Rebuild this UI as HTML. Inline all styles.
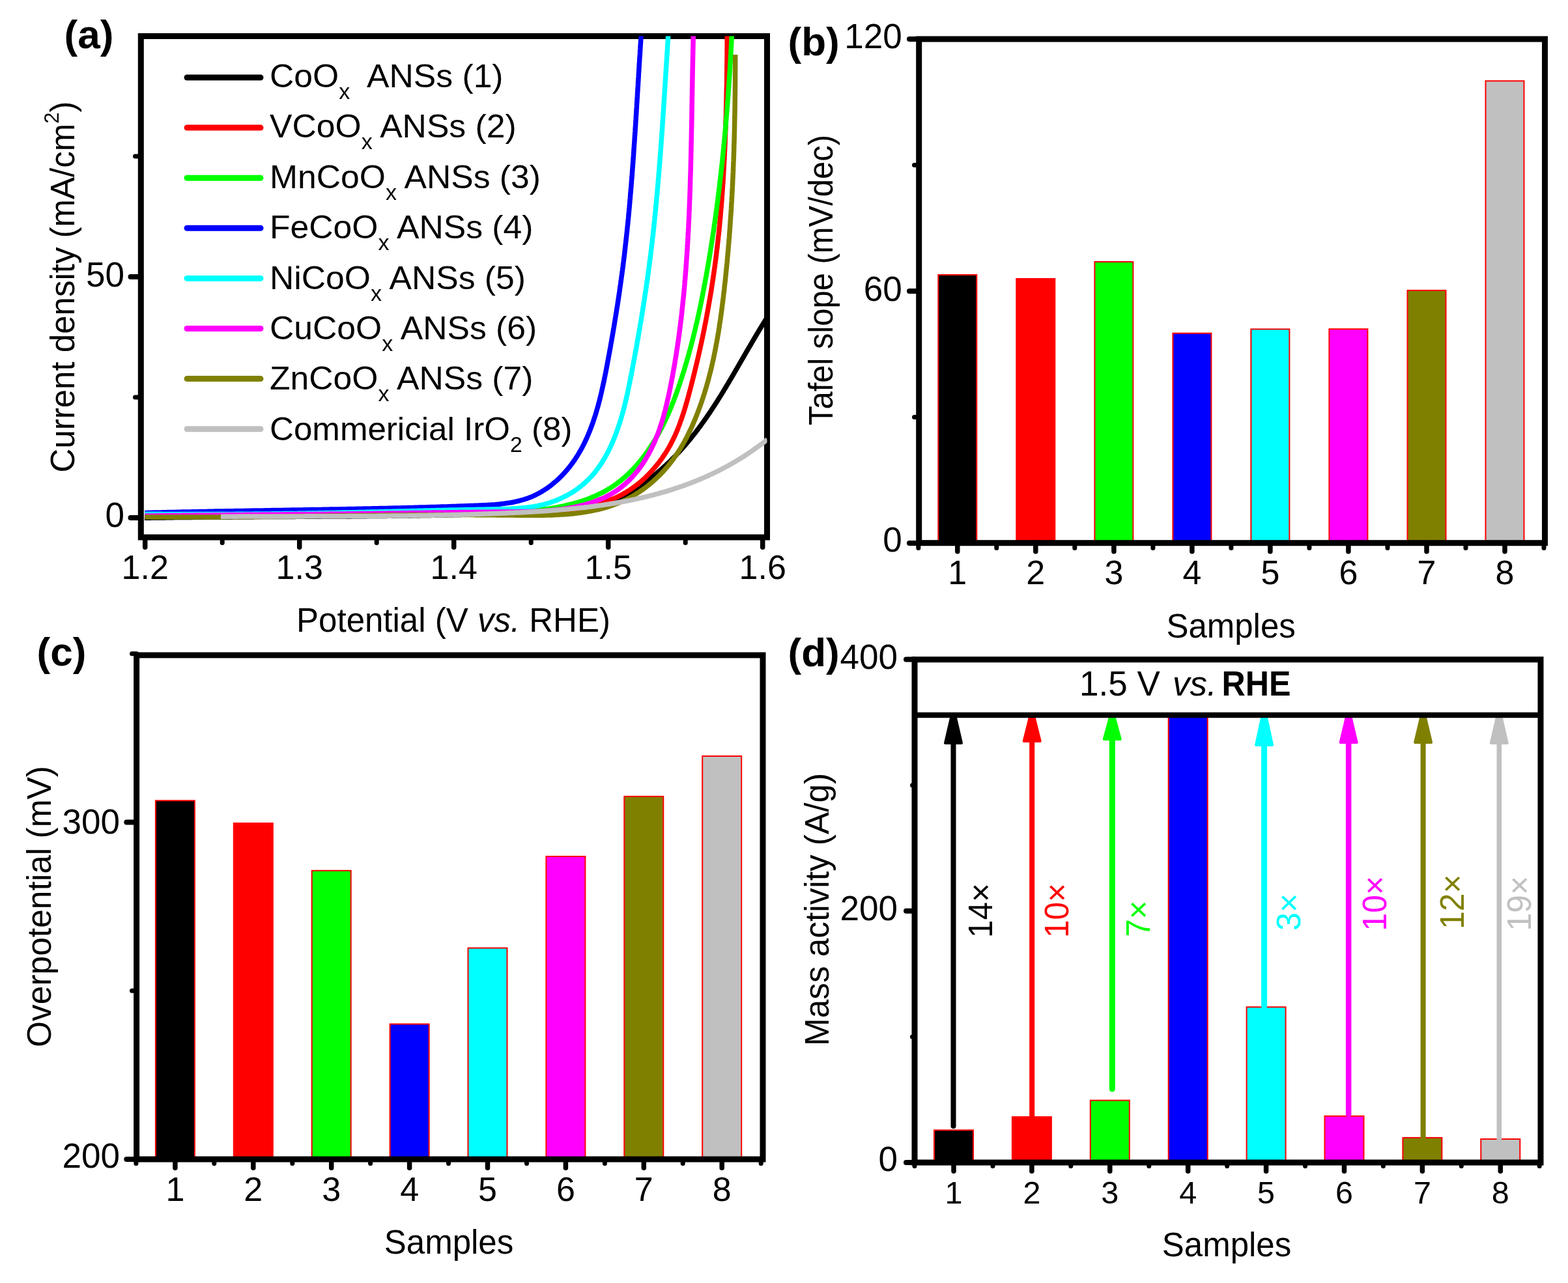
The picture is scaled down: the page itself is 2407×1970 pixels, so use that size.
<!DOCTYPE html>
<html><head><meta charset="utf-8"><title>Figure</title>
<style>html,body{margin:0;padding:0;background:#fff;}svg{display:block;}</style>
</head><body>
<svg width="2407" height="1970" viewBox="0 0 2407 1970" font-family='"Liberation Sans", Arial, sans-serif'>
<rect width="2407" height="1970" fill="#fff"/>
<defs><clipPath id="clipA"><rect x="216.3" y="55.5" width="961.2" height="769.5"/></clipPath></defs>
<rect x="216.3" y="55.5" width="961.2" height="769.5" fill="none" stroke="#000" stroke-width="9" stroke-linejoin="miter"/>
<g fill="none" stroke-width="7.5" stroke-linejoin="round" stroke-linecap="butt" clip-path="url(#clipA)">
<polyline points="221.9,795.3 224.1,795.3 226.3,795.3 228.5,795.2 230.7,795.2 232.9,795.1 235.1,795.1 237.3,795.1 239.5,795 241.7,795 243.9,795 246.1,794.9 248.3,794.9 250.5,794.9 252.7,794.9 254.9,794.8 257.1,794.8 259.3,794.8 261.5,794.7 263.7,794.7 265.9,794.7 268.1,794.6 270.3,794.6 272.5,794.6 274.7,794.6 276.9,794.5 279.1,794.5 281.3,794.5 283.5,794.5 285.7,794.4 287.9,794.4 290.1,794.4 292.3,794.4 294.5,794.4 296.7,794.3 298.9,794.3 301.1,794.3 303.3,794.3 305.5,794.2 307.7,794.2 309.9,794.2 312.1,794.2 314.2,794.2 316.4,794.1 318.6,794.1 320.8,794.1 323,794.1 325.2,794.1 327.4,794.1 329.6,794 331.8,794 334,794 336.2,794 338.4,794 340.6,794 342.8,793.9 345,793.9 347.2,793.9 349.4,793.9 351.6,793.9 353.8,793.9 356,793.9 358.2,793.8 360.4,793.8 362.6,793.8 364.8,793.8 367,793.8 369.2,793.8 371.4,793.8 373.5,793.7 375.7,793.7 377.9,793.7 380.1,793.7 382.3,793.7 384.5,793.7 386.7,793.7 388.9,793.7 391.1,793.6 393.3,793.6 395.5,793.6 397.7,793.6 399.9,793.6 402.1,793.6 404.3,793.6 406.5,793.6 408.7,793.6 410.9,793.5 413.1,793.5 415.2,793.5 417.4,793.5 419.6,793.5 421.8,793.5 424,793.5 426.2,793.5 428.4,793.5 430.6,793.5 432.8,793.4 435,793.4 437.2,793.4 439.4,793.4 441.6,793.4 443.8,793.4 446,793.4 448.2,793.4 450.4,793.4 452.6,793.4 454.7,793.3 456.9,793.3 459.1,793.3 461.3,793.3 463.5,793.3 465.7,793.3 467.9,793.3 470.1,793.3 472.3,793.3 474.5,793.2 476.7,793.2 478.9,793.2 481.1,793.2 483.3,793.2 485.5,793.2 487.7,793.2 489.8,793.2 492,793.2 494.2,793.1 496.4,793.1 498.6,793.1 500.8,793.1 503,793.1 505.2,793.1 507.4,793.1 509.6,793 511.8,793 514,793 516.2,793 518.4,793 520.6,793 522.8,793 524.9,793 527.1,792.9 529.3,792.9 531.5,792.9 533.7,792.9 535.9,792.9 538.1,792.9 540.3,792.8 542.5,792.8 544.7,792.8 546.9,792.8 549.1,792.8 551.3,792.8 553.5,792.7 555.7,792.7 557.9,792.7 560.1,792.7 562.2,792.7 564.4,792.6 566.6,792.6 568.8,792.6 571,792.6 573.2,792.6 575.4,792.5 577.6,792.5 579.8,792.5 582,792.5 584.2,792.4 586.4,792.4 588.6,792.4 590.8,792.4 593,792.4 595.2,792.3 597.4,792.3 599.5,792.3 601.7,792.2 603.9,792.2 606.1,792.2 608.3,792.2 610.5,792.1 612.7,792.1 614.9,792.1 617.1,792.1 619.3,792 621.5,792 623.7,792 625.9,791.9 628.1,791.9 630.3,791.9 632.5,791.8 634.7,791.8 636.9,791.8 639.1,791.7 641.3,791.7 643.4,791.7 645.6,791.6 647.8,791.6 650,791.6 652.2,791.5 654.4,791.5 656.6,791.4 658.8,791.4 661,791.4 663.2,791.3 665.4,791.3 667.6,791.2 669.8,791.2 672,791.2 674.2,791.1 676.4,791.1 678.6,791 680.8,791 683,790.9 685.2,790.9 687.4,790.8 689.6,790.8 691.8,790.7 694,790.7 696.2,790.6 698.4,790.6 700.6,790.5 702.7,790.5 704.9,790.4 707.1,790.4 709.3,790.3 711.5,790.3 713.7,790.2 715.9,790.2 718.1,790.1 720.3,790 722.5,790 724.7,789.9 726.9,789.9 729.1,789.8 731.3,789.7 733.5,789.7 735.7,789.6 737.9,789.6 740.1,789.5 742.3,789.4 744.5,789.4 746.7,789.3 748.9,789.2 751.1,789.2 753.3,789.1 755.5,789 757.7,788.9 759.9,788.9 762.1,788.8 764.3,788.7 766.5,788.7 768.7,788.6 770.9,788.5 773.1,788.4 775.3,788.3 777.5,788.3 779.7,788.2 781.9,788.1 784.1,788 786.3,787.9 788.5,787.9 790.7,787.8 792.9,787.7 795.1,787.6 797.3,787.5 799.5,787.4 801.7,787.3 803.9,787.2 806.1,787.1 808.3,787 810.5,786.9 812.7,786.8 814.9,786.6 817.1,786.5 819.3,786.4 821.5,786.3 823.7,786.2 825.9,786 828.1,785.9 830.3,785.7 832.4,785.6 834.6,785.5 836.8,785.3 839,785.1 841.2,785 843.4,784.8 845.6,784.6 847.8,784.5 850,784.3 852.1,784.1 854.3,783.9 856.5,783.7 858.7,783.5 860.9,783.3 863,783.1 865.2,782.8 867.4,782.6 869.6,782.4 871.8,782.1 873.9,781.9 876.1,781.6 878.3,781.4 880.4,781.1 882.6,780.8 884.8,780.6 886.9,780.3 889.1,780 891.3,779.7 893.4,779.4 895.6,779 897.7,778.7 899.9,778.4 902.1,778 904.2,777.7 906.4,777.3 908.5,777 910.7,776.6 912.8,776.2 914.9,775.8 917.1,775.4 919.2,775 921.3,774.5 923.5,774.1 925.6,773.6 927.7,773.1 929.8,772.6 931.9,772 934,771.5 936,770.9 938.1,770.2 940.1,769.5 942.1,768.8 944.1,768.1 946.1,767.3 948.1,766.5 950.1,765.6 952,764.7 953.9,763.8 955.8,762.8 957.7,761.8 959.6,760.8 961.5,759.7 963.4,758.6 965.2,757.5 967.1,756.4 968.9,755.2 970.8,754.1 972.6,752.9 974.4,751.7 976.3,750.5 978.1,749.2 979.9,748 981.7,746.8 983.5,745.5 985.3,744.2 987.1,742.9 988.9,741.6 990.7,740.3 992.5,739 994.3,737.6 996,736.3 997.8,734.9 999.6,733.6 1001.3,732.2 1003,730.8 1004.8,729.4 1006.5,728 1008.2,726.6 1009.9,725.1 1011.6,723.7 1013.3,722.2 1015,720.8 1016.6,719.3 1018.3,717.8 1019.9,716.3 1021.6,714.8 1023.2,713.3 1024.8,711.8 1026.4,710.3 1028,708.7 1029.6,707.2 1031.1,705.6 1032.7,704.1 1034.2,702.5 1035.8,700.9 1037.3,699.4 1038.8,697.8 1040.3,696.2 1041.8,694.6 1043.3,693 1044.8,691.4 1046.2,689.7 1047.7,688.1 1049.1,686.5 1050.6,684.8 1052,683.2 1053.4,681.5 1054.8,679.8 1056.2,678.2 1057.6,676.5 1059,674.8 1060.4,673.1 1061.8,671.4 1063.1,669.7 1064.5,668 1065.8,666.3 1067.2,664.6 1068.5,662.9 1069.8,661.1 1071.1,659.4 1072.4,657.7 1073.7,655.9 1075,654.2 1076.3,652.4 1077.6,650.6 1078.8,648.9 1080.1,647.1 1081.4,645.3 1082.6,643.5 1083.9,641.8 1085.1,640 1086.3,638.2 1087.6,636.4 1088.8,634.6 1090,632.8 1091.2,631 1092.4,629.1 1093.6,627.3 1094.8,625.5 1096,623.7 1097.2,621.8 1098.4,620 1099.6,618.2 1100.7,616.3 1101.9,614.5 1103.1,612.6 1104.2,610.8 1105.4,608.9 1106.5,607.1 1107.7,605.2 1108.8,603.3 1110,601.5 1111.1,599.6 1112.2,597.7 1113.4,595.9 1114.5,594 1115.6,592.1 1116.8,590.2 1117.9,588.4 1119,586.5 1120.1,584.6 1121.2,582.7 1122.4,580.8 1123.5,578.9 1124.6,577 1125.7,575.1 1126.8,573.2 1127.9,571.3 1129,569.4 1130.1,567.5 1131.2,565.6 1132.3,563.7 1133.4,561.8 1134.5,559.9 1135.6,558 1136.7,556.1 1137.8,554.2 1138.9,552.3 1140,550.4 1141.1,548.5 1142.2,546.6 1143.3,544.7 1144.4,542.8 1145.5,540.9 1146.6,539 1147.7,537.1 1148.8,535.2 1149.9,533.3 1151.1,531.4 1152.2,529.5 1153.3,527.6 1154.4,525.7 1155.5,523.8 1156.6,521.9 1157.7,520 1158.9,518.1 1160,516.2 1161.1,514.3 1162.2,512.4 1163.4,510.5 1164.5,508.6 1165.6,506.7 1166.8,504.8 1167.9,502.9 1169.1,501.1 1170.2,499.2 1171.4,497.3 1172.5,495.4 1173.7,493.5 1174.9,491.7 1176,489.8 1177.2,487.9" stroke="#000000"/>
<polyline points="222.5,789.7 225.4,789.8 228.4,789.8 231.3,789.8 234.2,789.8 237.2,789.8 240.1,789.8 243.1,789.8 246,789.8 249,789.8 251.9,789.8 254.9,789.8 257.8,789.8 260.8,789.8 263.8,789.8 266.7,789.8 269.7,789.8 272.6,789.8 275.6,789.8 278.6,789.8 281.5,789.8 284.5,789.8 287.5,789.8 290.4,789.8 293.4,789.8 296.4,789.7 299.3,789.7 302.3,789.7 305.3,789.7 308.3,789.7 311.3,789.7 314.2,789.7 317.2,789.6 320.2,789.6 323.2,789.6 326.2,789.6 329.1,789.6 332.1,789.6 335.1,789.5 338.1,789.5 341.1,789.5 344.1,789.5 347.1,789.5 350,789.4 353,789.4 356,789.4 359,789.4 362,789.3 365,789.3 368,789.3 371,789.3 374,789.2 377,789.2 380,789.2 383,789.2 386,789.1 388.9,789.1 391.9,789.1 394.9,789 397.9,789 400.9,789 403.9,788.9 406.9,788.9 409.9,788.9 412.9,788.9 415.9,788.8 418.9,788.8 421.9,788.8 424.9,788.7 427.9,788.7 430.9,788.7 433.9,788.6 436.9,788.6 439.9,788.6 442.9,788.5 445.9,788.5 448.9,788.5 451.9,788.4 454.9,788.4 457.9,788.4 460.9,788.3 463.9,788.3 466.9,788.3 469.9,788.2 472.9,788.2 475.9,788.2 478.9,788.1 481.9,788.1 484.9,788.1 487.9,788 490.9,788 493.9,788 496.8,787.9 499.8,787.9 502.8,787.9 505.8,787.8 508.8,787.8 511.8,787.8 514.8,787.7 517.8,787.7 520.8,787.7 523.8,787.7 526.7,787.6 529.7,787.6 532.7,787.6 535.7,787.5 538.7,787.5 541.7,787.5 544.7,787.4 547.6,787.4 550.6,787.4 553.6,787.4 556.6,787.3 559.5,787.3 562.5,787.3 565.5,787.3 568.5,787.2 571.4,787.2 574.4,787.2 577.4,787.2 580.4,787.1 583.3,787.1 586.3,787.1 589.3,787.1 592.2,787 595.2,787 598.1,787 601.1,787 604.1,787 607,786.9 610,786.9 612.9,786.9 615.9,786.9 618.8,786.9 621.8,786.9 624.7,786.8 627.7,786.8 630.6,786.8 633.6,786.8 636.5,786.8 639.5,786.8 642.4,786.8 645.4,786.8 648.3,786.7 651.3,786.7 654.3,786.7 657.2,786.7 660.2,786.7 663.1,786.7 666.1,786.7 669,786.7 672,786.7 674.9,786.7 677.9,786.6 680.8,786.6 683.8,786.6 686.8,786.6 689.7,786.6 692.7,786.6 695.6,786.6 698.6,786.6 701.6,786.6 704.5,786.6 707.5,786.6 710.5,786.6 713.5,786.6 716.4,786.6 719.4,786.6 722.4,786.6 725.4,786.6 728.4,786.6 731.3,786.5 734.3,786.5 737.3,786.5 740.3,786.5 743.3,786.5 746.3,786.5 749.3,786.5 752.3,786.5 755.3,786.5 758.4,786.5 761.4,786.5 764.4,786.5 767.4,786.5 770.4,786.5 773.5,786.5 776.5,786.5 779.5,786.5 782.6,786.5 785.6,786.5 788.7,786.5 791.7,786.5 794.8,786.5 797.9,786.5 800.9,786.4 804,786.4 807,786.4 810.1,786.4 813.2,786.3 816.2,786.3 819.3,786.2 822.3,786.1 825.4,786.1 828.5,786 831.5,785.9 834.6,785.8 837.6,785.6 840.7,785.5 843.7,785.4 846.7,785.2 849.8,785 852.8,784.8 855.8,784.6 858.8,784.3 861.8,784.1 864.8,783.8 867.8,783.5 870.8,783.2 873.8,782.8 876.8,782.5 879.7,782.1 882.7,781.6 885.6,781.2 888.5,780.7 891.4,780.2 894.4,779.7 897.2,779.1 900.1,778.6 903,777.9 905.9,777.3 908.7,776.6 911.5,775.9 914.3,775.2 917.1,774.4 919.9,773.6 922.7,772.7 925.4,771.8 928.2,770.9 930.9,770 933.6,769 936.3,767.9 938.9,766.8 941.6,765.7 944.2,764.6 946.8,763.4 949.4,762.1 952,760.8 954.5,759.5 957.1,758.1 959.6,756.7 962.1,755.2 964.5,753.6 967,752.1 969.4,750.4 971.8,748.8 974.1,747.1 976.5,745.3 978.8,743.5 981.1,741.7 983.3,739.8 985.6,737.8 987.8,735.9 990,733.9 992.1,731.8 994.2,729.7 996.3,727.6 998.4,725.5 1000.4,723.3 1002.4,721.1 1004.4,718.8 1006.3,716.5 1008.2,714.2 1010.1,711.9 1011.9,709.5 1013.7,707.1 1015.5,704.7 1017.2,702.2 1018.9,699.7 1020.6,697.2 1022.2,694.7 1023.8,692.1 1025.3,689.6 1026.8,687 1028.3,684.4 1029.7,681.7 1031.1,679.1 1032.4,676.4 1033.8,673.7 1035,671 1036.3,668.3 1037.5,665.6 1038.7,662.9 1039.8,660.1 1040.9,657.3 1042,654.5 1043.1,651.8 1044.1,648.9 1045.1,646.1 1046.1,643.3 1047.1,640.5 1048,637.6 1049,634.8 1049.9,631.9 1050.8,629 1051.6,626.2 1052.5,623.3 1053.3,620.4 1054.2,617.5 1055,614.6 1055.8,611.7 1056.6,608.8 1057.4,605.9 1058.1,603 1058.9,600.1 1059.7,597.2 1060.4,594.3 1061.2,591.4 1061.9,588.5 1062.7,585.5 1063.4,582.6 1064.1,579.7 1064.9,576.8 1065.6,573.9 1066.3,571 1067,568.1 1067.7,565.2 1068.4,562.3 1069.1,559.4 1069.8,556.5 1070.5,553.5 1071.2,550.6 1071.8,547.7 1072.5,544.8 1073.2,541.9 1073.8,539 1074.5,536.1 1075.1,533.1 1075.8,530.2 1076.4,527.3 1077,524.4 1077.6,521.5 1078.3,518.6 1078.9,515.6 1079.5,512.7 1080.1,509.8 1080.7,506.9 1081.3,504 1081.8,501 1082.4,498.1 1083,495.2 1083.6,492.3 1084.1,489.3 1084.7,486.4 1085.2,483.5 1085.8,480.6 1086.3,477.6 1086.8,474.7 1087.4,471.8 1087.9,468.9 1088.4,465.9 1088.9,463 1089.4,460.1 1089.9,457.1 1090.4,454.2 1090.9,451.3 1091.4,448.3 1091.9,445.4 1092.3,442.5 1092.8,439.5 1093.2,436.6 1093.7,433.6 1094.1,430.7 1094.6,427.8 1095,424.8 1095.4,421.9 1095.9,418.9 1096.3,416 1096.7,413 1097.1,410.1 1097.5,407.2 1097.9,404.2 1098.3,401.3 1098.7,398.3 1099.1,395.4 1099.4,392.4 1099.8,389.4 1100.1,386.5 1100.5,383.5 1100.9,380.6 1101.2,377.6 1101.5,374.7 1101.9,371.7 1102.2,368.7 1102.5,365.8 1102.8,362.8 1103.2,359.9 1103.5,356.9 1103.8,353.9 1104.1,351 1104.4,348 1104.7,345 1104.9,342.1 1105.2,339.1 1105.5,336.1 1105.8,333.2 1106,330.2 1106.3,327.2 1106.5,324.3 1106.8,321.3 1107,318.3 1107.3,315.4 1107.5,312.4 1107.8,309.4 1108,306.4 1108.2,303.5 1108.4,300.5 1108.7,297.5 1108.9,294.5 1109.1,291.6 1109.3,288.6 1109.5,285.6 1109.7,282.6 1109.9,279.7 1110.1,276.7 1110.2,273.7 1110.4,270.7 1110.6,267.7 1110.8,264.8 1110.9,261.8 1111.1,258.8 1111.3,255.8 1111.4,252.8 1111.6,249.9 1111.7,246.9 1111.9,243.9 1112,240.9 1112.2,237.9 1112.3,235 1112.5,232 1112.6,229 1112.7,226 1112.8,223 1113,220 1113.1,217.1 1113.2,214.1 1113.3,211.1 1113.4,208.1 1113.5,205.1 1113.6,202.1 1113.8,199.1 1113.9,196.2 1114,193.2 1114,190.2 1114.1,187.2 1114.2,184.2 1114.3,181.2 1114.4,178.2 1114.5,175.3 1114.6,172.3 1114.6,169.3 1114.7,166.3 1114.8,163.3 1114.9,160.3 1114.9,157.4 1115,154.4 1115.1,151.4 1115.1,148.4 1115.2,145.4 1115.2,142.4 1115.3,139.4 1115.3,136.5 1115.4,133.5 1115.5,130.5 1115.5,127.5 1115.5,124.5 1115.6,121.5 1115.6,118.6 1115.7,115.6 1115.7,112.6 1115.8,109.6 1115.8,106.6 1115.8,103.6 1115.9,100.7 1115.9,97.7 1115.9,94.7 1116,91.7 1116,88.7 1116,85.8 1116.1,82.8 1116.1,79.8 1116.1,76.8 1116.1,73.9 1116.2,70.9 1116.2,67.9 1116.2,64.9 1116.2,61.9 1116.2,59 1116.3,56 1116.3,53 1116.3,50" stroke="#ff0000"/>
<polyline points="222.3,791.5 225.2,791.5 228.1,791.6 231,791.6 233.9,791.6 236.8,791.6 239.8,791.6 242.7,791.7 245.6,791.7 248.5,791.7 251.4,791.7 254.3,791.7 257.3,791.7 260.2,791.7 263.1,791.7 266,791.7 268.9,791.7 271.9,791.7 274.8,791.7 277.7,791.7 280.6,791.7 283.6,791.7 286.5,791.7 289.4,791.7 292.3,791.7 295.3,791.7 298.2,791.6 301.1,791.6 304.1,791.6 307,791.6 309.9,791.6 312.9,791.6 315.8,791.5 318.7,791.5 321.7,791.5 324.6,791.5 327.5,791.5 330.5,791.4 333.4,791.4 336.3,791.4 339.3,791.4 342.2,791.3 345.2,791.3 348.1,791.3 351,791.2 354,791.2 356.9,791.2 359.9,791.2 362.8,791.1 365.7,791.1 368.7,791.1 371.6,791 374.6,791 377.5,791 380.5,790.9 383.4,790.9 386.3,790.9 389.3,790.8 392.2,790.8 395.2,790.7 398.1,790.7 401.1,790.7 404,790.6 407,790.6 409.9,790.6 412.8,790.5 415.8,790.5 418.7,790.5 421.7,790.4 424.6,790.4 427.6,790.3 430.5,790.3 433.5,790.3 436.4,790.2 439.4,790.2 442.3,790.2 445.2,790.1 448.2,790.1 451.1,790 454.1,790 457,790 460,789.9 462.9,789.9 465.9,789.9 468.8,789.8 471.7,789.8 474.7,789.8 477.6,789.7 480.6,789.7 483.5,789.7 486.5,789.6 489.4,789.6 492.3,789.6 495.3,789.5 498.2,789.5 501.2,789.5 504.1,789.5 507,789.4 510,789.4 512.9,789.4 515.9,789.4 518.8,789.3 521.7,789.3 524.7,789.3 527.6,789.3 530.5,789.2 533.5,789.2 536.4,789.2 539.4,789.2 542.3,789.2 545.2,789.2 548.2,789.1 551.1,789.1 554,789.1 556.9,789.1 559.9,789.1 562.8,789.1 565.7,789.1 568.7,789.1 571.6,789.1 574.5,789.1 577.4,789.1 580.4,789.1 583.3,789.1 586.2,789.1 589.1,789.1 592.1,789.1 595,789.1 597.9,789.1 600.8,789.1 603.7,789.1 606.7,789.1 609.6,789.1 612.5,789.2 615.4,789.2 618.3,789.2 621.2,789.2 624.2,789.2 627.1,789.2 630,789.2 632.9,789.3 635.8,789.3 638.7,789.3 641.7,789.3 644.6,789.3 647.5,789.3 650.4,789.3 653.3,789.3 656.2,789.4 659.1,789.4 662.1,789.4 665,789.4 667.9,789.4 670.8,789.4 673.7,789.4 676.7,789.4 679.6,789.4 682.5,789.3 685.4,789.3 688.4,789.3 691.3,789.3 694.2,789.3 697.1,789.3 700.1,789.2 703,789.2 705.9,789.2 708.9,789.1 711.8,789.1 714.7,789.1 717.7,789 720.6,789 723.5,788.9 726.5,788.9 729.4,788.8 732.4,788.7 735.3,788.6 738.3,788.6 741.2,788.5 744.2,788.4 747.1,788.3 750.1,788.2 753.1,788.1 756,788 759,787.9 761.9,787.8 764.9,787.6 767.9,787.5 770.9,787.4 773.8,787.2 776.8,787.1 779.8,786.9 782.8,786.8 785.8,786.6 788.8,786.4 791.8,786.2 794.7,786 797.7,785.8 800.7,785.6 803.7,785.4 806.7,785.1 809.7,784.9 812.7,784.6 815.6,784.3 818.6,784 821.6,783.7 824.6,783.4 827.5,783 830.5,782.7 833.4,782.3 836.4,781.9 839.3,781.5 842.2,781.1 845.2,780.6 848.1,780.1 851,779.6 853.9,779.1 856.8,778.6 859.7,778 862.6,777.4 865.4,776.8 868.3,776.2 871.1,775.5 873.9,774.8 876.8,774.1 879.6,773.4 882.4,772.6 885.1,771.8 887.9,771 890.6,770.2 893.4,769.3 896.1,768.4 898.8,767.4 901.5,766.4 904.2,765.4 906.8,764.4 909.4,763.3 912.1,762.2 914.7,761.1 917.2,759.9 919.8,758.7 922.3,757.4 924.9,756.1 927.4,754.8 929.8,753.4 932.3,752 934.7,750.6 937.1,749.1 939.5,747.6 941.9,746 944.2,744.4 946.5,742.7 948.8,741 951.1,739.3 953.3,737.5 955.5,735.7 957.7,733.8 959.9,731.9 962,730 964.2,728 966.2,726 968.3,723.9 970.3,721.8 972.4,719.7 974.4,717.6 976.3,715.4 978.3,713.2 980.2,711 982.1,708.7 983.9,706.4 985.8,704.1 987.6,701.7 989.4,699.4 991.1,697 992.8,694.6 994.6,692.1 996.2,689.7 997.9,687.2 999.5,684.7 1001.1,682.2 1002.7,679.7 1004.3,677.1 1005.8,674.6 1007.3,672 1008.8,669.5 1010.3,666.9 1011.7,664.3 1013.1,661.7 1014.5,659.1 1015.9,656.4 1017.2,653.8 1018.5,651.2 1019.8,648.5 1021.1,645.8 1022.3,643.2 1023.6,640.5 1024.8,637.8 1026,635.1 1027.1,632.4 1028.3,629.7 1029.4,627 1030.5,624.3 1031.6,621.6 1032.7,618.8 1033.8,616.1 1034.8,613.4 1035.9,610.6 1036.9,607.9 1037.9,605.1 1038.9,602.4 1039.9,599.6 1040.8,596.8 1041.8,594 1042.8,591.3 1043.7,588.5 1044.6,585.7 1045.5,582.9 1046.4,580.1 1047.3,577.3 1048.2,574.5 1049.1,571.7 1050,568.9 1050.8,566.1 1051.7,563.3 1052.5,560.5 1053.3,557.7 1054.2,554.9 1055,552.1 1055.8,549.3 1056.6,546.5 1057.4,543.6 1058.1,540.8 1058.9,538 1059.7,535.2 1060.4,532.3 1061.2,529.5 1061.9,526.7 1062.7,523.8 1063.4,521 1064.1,518.1 1064.8,515.3 1065.5,512.4 1066.2,509.6 1066.9,506.7 1067.6,503.9 1068.2,501 1068.9,498.2 1069.6,495.3 1070.2,492.5 1070.9,489.6 1071.5,486.7 1072.1,483.9 1072.8,481 1073.4,478.1 1074,475.3 1074.6,472.4 1075.2,469.5 1075.8,466.7 1076.4,463.8 1077,460.9 1077.5,458 1078.1,455.2 1078.7,452.3 1079.2,449.4 1079.8,446.5 1080.4,443.6 1080.9,440.8 1081.4,437.9 1082,435 1082.5,432.1 1083,429.2 1083.6,426.3 1084.1,423.4 1084.6,420.5 1085.1,417.7 1085.6,414.8 1086.1,411.9 1086.6,409 1087.1,406.1 1087.6,403.2 1088.1,400.3 1088.6,397.4 1089.1,394.5 1089.5,391.6 1090,388.7 1090.5,385.8 1090.9,382.9 1091.4,380 1091.9,377.1 1092.3,374.2 1092.8,371.3 1093.2,368.4 1093.7,365.5 1094.1,362.6 1094.5,359.7 1095,356.8 1095.4,353.9 1095.8,351 1096.2,348.1 1096.7,345.2 1097.1,342.3 1097.5,339.4 1097.9,336.5 1098.3,333.6 1098.7,330.6 1099.1,327.7 1099.5,324.8 1099.9,321.9 1100.3,319 1100.6,316.1 1101,313.2 1101.4,310.3 1101.8,307.4 1102.1,304.5 1102.5,301.5 1102.9,298.6 1103.2,295.7 1103.6,292.8 1103.9,289.9 1104.3,287 1104.6,284.1 1105,281.1 1105.3,278.2 1105.7,275.3 1106,272.4 1106.3,269.5 1106.7,266.6 1107,263.6 1107.3,260.7 1107.6,257.8 1107.9,254.9 1108.3,252 1108.6,249.1 1108.9,246.1 1109.2,243.2 1109.5,240.3 1109.8,237.4 1110.1,234.4 1110.4,231.5 1110.7,228.6 1111,225.7 1111.2,222.8 1111.5,219.8 1111.8,216.9 1112.1,214 1112.4,211.1 1112.6,208.1 1112.9,205.2 1113.2,202.3 1113.4,199.4 1113.7,196.4 1113.9,193.5 1114.2,190.6 1114.4,187.7 1114.7,184.7 1114.9,181.8 1115.2,178.9 1115.4,176 1115.7,173 1115.9,170.1 1116.1,167.2 1116.4,164.3 1116.6,161.3 1116.8,158.4 1117,155.5 1117.3,152.5 1117.5,149.6 1117.7,146.7 1117.9,143.8 1118.1,140.8 1118.3,137.9 1118.5,135 1118.7,132.1 1118.9,129.1 1119.1,126.2 1119.3,123.3 1119.5,120.3 1119.7,117.4 1119.9,114.5 1120.1,111.5 1120.3,108.6 1120.5,105.7 1120.7,102.8 1120.8,99.8 1121,96.9 1121.2,94 1121.4,91 1121.5,88.1 1121.7,85.2 1121.9,82.2 1122,79.3 1122.2,76.4 1122.4,73.5 1122.5,70.5 1122.7,67.6 1122.8,64.7 1123,61.7 1123.1,58.8 1123.3,55.9 1123.4,52.9 1123.6,50" stroke="#00ff00"/>
<polyline points="222.2,787.4 224.9,787.4 227.6,787.3 230.3,787.2 233,787.2 235.6,787.1 238.3,787 241,787 243.7,786.9 246.4,786.9 249.1,786.8 251.8,786.7 254.5,786.7 257.2,786.6 259.9,786.6 262.6,786.5 265.3,786.4 268,786.4 270.7,786.3 273.4,786.3 276.1,786.2 278.8,786.1 281.5,786.1 284.2,786 286.9,786 289.6,785.9 292.3,785.9 295,785.8 297.8,785.8 300.5,785.7 303.2,785.7 305.9,785.6 308.6,785.5 311.3,785.5 314,785.4 316.7,785.4 319.4,785.3 322.1,785.3 324.8,785.2 327.6,785.2 330.3,785.1 333,785.1 335.7,785 338.4,785 341.1,784.9 343.8,784.9 346.6,784.8 349.3,784.8 352,784.7 354.7,784.7 357.4,784.7 360.1,784.6 362.8,784.6 365.6,784.5 368.3,784.5 371,784.4 373.7,784.4 376.4,784.3 379.1,784.3 381.9,784.2 384.6,784.2 387.3,784.1 390,784.1 392.7,784 395.4,784 398.2,784 400.9,783.9 403.6,783.9 406.3,783.8 409,783.8 411.7,783.7 414.5,783.7 417.2,783.6 419.9,783.6 422.6,783.6 425.3,783.5 428,783.5 430.8,783.4 433.5,783.4 436.2,783.3 438.9,783.3 441.6,783.2 444.3,783.2 447.1,783.1 449.8,783.1 452.5,783.1 455.2,783 457.9,783 460.6,782.9 463.4,782.9 466.1,782.8 468.8,782.8 471.5,782.7 474.2,782.7 476.9,782.6 479.6,782.6 482.4,782.5 485.1,782.5 487.8,782.5 490.5,782.4 493.2,782.4 495.9,782.3 498.6,782.3 501.4,782.2 504.1,782.2 506.8,782.1 509.5,782.1 512.2,782 514.9,782 517.6,781.9 520.3,781.9 523,781.8 525.7,781.8 528.4,781.7 531.2,781.7 533.9,781.6 536.6,781.6 539.3,781.5 542,781.5 544.7,781.4 547.4,781.3 550.1,781.3 552.8,781.2 555.5,781.2 558.2,781.1 560.9,781.1 563.6,781 566.3,781 569,780.9 571.7,780.8 574.4,780.8 577.1,780.7 579.8,780.7 582.5,780.6 585.2,780.6 587.9,780.5 590.6,780.4 593.3,780.4 596,780.3 598.7,780.3 601.4,780.2 604.1,780.1 606.8,780.1 609.5,780 612.2,779.9 614.9,779.9 617.6,779.8 620.3,779.7 623,779.7 625.7,779.6 628.4,779.5 631.1,779.5 633.8,779.4 636.5,779.3 639.2,779.2 641.9,779.2 644.6,779.1 647.3,779 650,778.9 652.7,778.9 655.4,778.8 658.1,778.7 660.9,778.6 663.6,778.5 666.3,778.5 669,778.4 671.7,778.3 674.4,778.2 677.2,778.1 679.9,778 682.6,777.9 685.4,777.9 688.1,777.8 690.8,777.7 693.6,777.6 696.3,777.5 699,777.4 701.8,777.3 704.5,777.2 707.3,777.1 710,777 712.8,776.9 715.5,776.8 718.3,776.7 721,776.6 723.8,776.5 726.6,776.4 729.3,776.3 732.1,776.2 734.9,776.1 737.6,775.9 740.4,775.8 743.2,775.7 746,775.6 748.7,775.4 751.5,775.2 754.3,775.1 757,774.9 759.8,774.7 762.5,774.4 765.2,774.2 768,773.9 770.7,773.6 773.4,773.3 776.1,772.9 778.8,772.5 781.5,772.1 784.2,771.7 786.8,771.2 789.5,770.7 792.1,770.1 794.7,769.5 797.3,768.9 799.9,768.2 802.4,767.5 804.9,766.7 807.5,765.9 810,765.1 812.4,764.1 814.9,763.2 817.3,762.2 819.7,761.1 822.1,760 824.4,758.8 826.8,757.6 829.1,756.3 831.4,755 833.6,753.6 835.8,752.2 838,750.8 840.2,749.3 842.4,747.8 844.5,746.2 846.6,744.6 848.7,742.9 850.7,741.2 852.7,739.5 854.7,737.8 856.7,736 858.6,734.1 860.5,732.3 862.4,730.4 864.2,728.5 866,726.5 867.8,724.5 869.6,722.5 871.3,720.5 873,718.4 874.7,716.3 876.3,714.2 877.9,712.1 879.4,710 881,707.8 882.5,705.6 883.9,703.4 885.4,701.2 886.8,698.9 888.2,696.6 889.5,694.3 890.9,692 892.2,689.7 893.4,687.4 894.7,685 895.9,682.6 897.1,680.2 898.3,677.8 899.4,675.4 900.5,672.9 901.6,670.5 902.7,668 903.7,665.5 904.8,663 905.8,660.5 906.7,658 907.7,655.5 908.6,652.9 909.6,650.3 910.5,647.8 911.3,645.2 912.2,642.6 913,640 913.9,637.4 914.7,634.7 915.5,632.1 916.2,629.5 917,626.8 917.8,624.2 918.5,621.5 919.2,618.8 919.9,616.2 920.6,613.5 921.3,610.8 921.9,608.1 922.6,605.4 923.2,602.7 923.8,600 924.4,597.3 925,594.6 925.6,591.8 926.2,589.1 926.8,586.4 927.4,583.7 927.9,581 928.5,578.2 929,575.5 929.6,572.8 930.1,570.1 930.6,567.3 931.2,564.6 931.7,561.9 932.2,559.2 932.7,556.4 933.2,553.7 933.7,551 934.2,548.3 934.7,545.6 935.2,542.9 935.7,540.2 936.2,537.5 936.7,534.8 937.2,532.1 937.6,529.4 938.1,526.7 938.6,524.1 939.1,521.4 939.5,518.7 940,516 940.5,513.3 940.9,510.7 941.4,508 941.8,505.3 942.3,502.6 942.7,500 943.2,497.3 943.6,494.6 944,492 944.5,489.3 944.9,486.7 945.3,484 945.8,481.3 946.2,478.7 946.6,476 947,473.4 947.5,470.7 947.9,468.1 948.3,465.4 948.7,462.8 949.1,460.1 949.5,457.4 949.9,454.8 950.3,452.1 950.7,449.5 951.1,446.8 951.4,444.2 951.8,441.5 952.2,438.9 952.6,436.2 952.9,433.6 953.3,430.9 953.7,428.3 954,425.6 954.4,423 954.8,420.3 955.1,417.6 955.5,415 955.8,412.3 956.2,409.7 956.5,407 956.8,404.3 957.2,401.7 957.5,399 957.8,396.4 958.2,393.7 958.5,391 958.8,388.3 959.1,385.7 959.4,383 959.7,380.3 960,377.6 960.3,375 960.6,372.3 960.9,369.6 961.2,366.9 961.5,364.2 961.8,361.6 962.1,358.9 962.4,356.2 962.7,353.5 962.9,350.8 963.2,348.1 963.5,345.4 963.8,342.7 964,340 964.3,337.3 964.6,334.6 964.8,331.9 965.1,329.2 965.3,326.5 965.6,323.8 965.8,321.1 966.1,318.4 966.3,315.7 966.6,313 966.8,310.3 967,307.5 967.3,304.8 967.5,302.1 967.7,299.4 968,296.7 968.2,294 968.4,291.3 968.7,288.5 968.9,285.8 969.1,283.1 969.3,280.4 969.5,277.7 969.7,275 970,272.2 970.2,269.5 970.4,266.8 970.6,264.1 970.8,261.4 971,258.6 971.2,255.9 971.4,253.2 971.6,250.5 971.8,247.8 972,245 972.2,242.3 972.4,239.6 972.6,236.9 972.8,234.1 972.9,231.4 973.1,228.7 973.3,226 973.5,223.3 973.7,220.5 973.9,217.8 974.1,215.1 974.2,212.4 974.4,209.6 974.6,206.9 974.8,204.2 975,201.5 975.1,198.8 975.3,196 975.5,193.3 975.7,190.6 975.8,187.9 976,185.2 976.2,182.4 976.3,179.7 976.5,177 976.7,174.3 976.9,171.6 977,168.9 977.2,166.2 977.4,163.4 977.5,160.7 977.7,158 977.9,155.3 978,152.6 978.2,149.9 978.4,147.2 978.5,144.5 978.7,141.8 978.9,139.1 979,136.4 979.2,133.7 979.4,131 979.5,128.3 979.7,125.6 979.9,122.9 980,120.2 980.2,117.5 980.3,114.8 980.5,112.1 980.7,109.4 980.8,106.7 981,104 981.2,101.3 981.3,98.6 981.5,95.9 981.7,93.3 981.8,90.6 982,87.9 982.2,85.2 982.4,82.5 982.5,79.9 982.7,77.2 982.9,74.5 983,71.9 983.2,69.2 983.4,66.5 983.6,63.9 983.7,61.2 983.9,58.5 984.1,55.9 984.3,53.2 984.4,50.6" stroke="#0000ff"/>
<polyline points="222.2,789.2 225,789.2 227.8,789.2 230.6,789.2 233.4,789.2 236.1,789.3 238.9,789.3 241.7,789.3 244.5,789.3 247.3,789.3 250.1,789.4 252.9,789.4 255.7,789.4 258.5,789.4 261.2,789.4 264,789.4 266.8,789.4 269.6,789.5 272.4,789.5 275.2,789.5 278,789.5 280.8,789.5 283.6,789.5 286.4,789.5 289.2,789.5 292,789.5 294.8,789.5 297.6,789.5 300.4,789.5 303.2,789.5 306,789.5 308.8,789.5 311.6,789.5 314.4,789.5 317.2,789.5 320,789.5 322.8,789.5 325.6,789.5 328.4,789.5 331.2,789.5 334,789.5 336.9,789.5 339.7,789.4 342.5,789.4 345.3,789.4 348.1,789.4 350.9,789.4 353.7,789.4 356.5,789.4 359.3,789.4 362.1,789.3 364.9,789.3 367.7,789.3 370.6,789.3 373.4,789.3 376.2,789.2 379,789.2 381.8,789.2 384.6,789.2 387.4,789.2 390.2,789.1 393,789.1 395.8,789.1 398.7,789.1 401.5,789 404.3,789 407.1,789 409.9,788.9 412.7,788.9 415.5,788.9 418.3,788.8 421.1,788.8 424,788.8 426.8,788.7 429.6,788.7 432.4,788.7 435.2,788.6 438,788.6 440.8,788.6 443.6,788.5 446.4,788.5 449.3,788.4 452.1,788.4 454.9,788.4 457.7,788.3 460.5,788.3 463.3,788.2 466.1,788.2 468.9,788.2 471.7,788.1 474.5,788.1 477.3,788 480.1,788 483,787.9 485.8,787.9 488.6,787.8 491.4,787.8 494.2,787.7 497,787.7 499.8,787.6 502.6,787.6 505.4,787.5 508.2,787.5 511,787.4 513.8,787.4 516.6,787.3 519.4,787.2 522.2,787.2 525,787.1 527.8,787.1 530.6,787 533.4,787 536.2,786.9 539,786.8 541.8,786.8 544.6,786.7 547.4,786.7 550.2,786.6 553,786.5 555.8,786.5 558.6,786.4 561.4,786.3 564.2,786.3 567,786.2 569.7,786.1 572.5,786.1 575.3,786 578.1,785.9 580.9,785.9 583.7,785.8 586.5,785.7 589.3,785.7 592.1,785.6 594.8,785.5 597.6,785.4 600.4,785.4 603.2,785.3 606,785.2 608.8,785.2 611.6,785.1 614.3,785 617.1,784.9 619.9,784.9 622.7,784.8 625.5,784.7 628.3,784.7 631.1,784.6 633.8,784.5 636.6,784.4 639.4,784.4 642.2,784.3 645,784.2 647.8,784.2 650.6,784.1 653.4,784 656.2,783.9 659,783.9 661.8,783.8 664.6,783.7 667.4,783.7 670.2,783.6 673,783.5 675.8,783.5 678.6,783.4 681.4,783.3 684.2,783.3 687,783.2 689.8,783.1 692.6,783.1 695.4,783 698.2,783 701.1,782.9 703.9,782.9 706.7,782.8 709.5,782.7 712.3,782.7 715.2,782.6 718,782.6 720.8,782.5 723.7,782.5 726.5,782.4 729.3,782.4 732.2,782.3 735,782.3 737.9,782.3 740.7,782.2 743.6,782.2 746.4,782.1 749.3,782.1 752.2,782.1 755,782 757.9,782 760.7,781.9 763.6,781.9 766.5,781.8 769.3,781.8 772.2,781.7 775.1,781.6 777.9,781.5 780.8,781.4 783.6,781.3 786.5,781.1 789.3,781 792.1,780.8 795,780.6 797.8,780.3 800.6,780.1 803.4,779.8 806.2,779.5 809,779.2 811.8,778.8 814.5,778.5 817.3,778 820,777.6 822.8,777.1 825.5,776.6 828.2,776 830.9,775.4 833.6,774.8 836.2,774.1 838.9,773.3 841.5,772.6 844.2,771.8 846.8,770.9 849.3,770 851.9,769 854.4,768.1 857,767 859.5,765.9 862,764.8 864.4,763.7 866.9,762.4 869.3,761.2 871.7,759.9 874,758.6 876.4,757.2 878.7,755.8 881,754.3 883.2,752.8 885.4,751.3 887.6,749.7 889.8,748 891.9,746.4 894,744.7 896.1,742.9 898.1,741.1 900.1,739.3 902.1,737.4 904,735.5 905.9,733.5 907.8,731.5 909.6,729.5 911.4,727.4 913.1,725.3 914.9,723.1 916.5,720.9 918.2,718.7 919.8,716.4 921.4,714.1 922.9,711.8 924.4,709.4 925.9,707.1 927.3,704.7 928.8,702.2 930.1,699.8 931.5,697.3 932.8,694.8 934.1,692.2 935.4,689.7 936.6,687.1 937.8,684.5 939,681.9 940.1,679.3 941.2,676.7 942.3,674.1 943.4,671.4 944.5,668.7 945.5,666.1 946.5,663.4 947.4,660.7 948.4,658 949.3,655.3 950.2,652.6 951.1,649.9 951.9,647.2 952.8,644.4 953.6,641.7 954.4,639 955.2,636.3 955.9,633.6 956.7,630.8 957.4,628.1 958.1,625.4 958.8,622.7 959.5,619.9 960.1,617.2 960.8,614.5 961.4,611.7 962.1,609 962.7,606.3 963.3,603.5 963.9,600.8 964.4,598 965,595.3 965.6,592.5 966.1,589.8 966.7,587 967.2,584.3 967.8,581.6 968.3,578.8 968.9,576.1 969.4,573.3 969.9,570.6 970.4,567.8 971,565.1 971.5,562.3 972,559.6 972.5,556.8 973,554.1 973.5,551.3 974.1,548.5 974.6,545.8 975.1,543 975.6,540.3 976.1,537.5 976.6,534.8 977.1,532 977.6,529.3 978,526.5 978.5,523.8 979,521 979.5,518.3 980,515.5 980.5,512.7 980.9,510 981.4,507.2 981.9,504.5 982.4,501.7 982.8,499 983.3,496.2 983.8,493.4 984.2,490.7 984.7,487.9 985.1,485.2 985.6,482.4 986,479.6 986.5,476.9 986.9,474.1 987.3,471.3 987.8,468.6 988.2,465.8 988.6,463.1 989.1,460.3 989.5,457.5 989.9,454.8 990.3,452 990.8,449.2 991.2,446.5 991.6,443.7 992,440.9 992.4,438.2 992.8,435.4 993.2,432.6 993.6,429.8 994,427.1 994.4,424.3 994.7,421.5 995.1,418.8 995.5,416 995.9,413.2 996.2,410.4 996.6,407.7 997,404.9 997.3,402.1 997.7,399.3 998.1,396.5 998.4,393.8 998.8,391 999.1,388.2 999.4,385.4 999.8,382.7 1000.1,379.9 1000.4,377.1 1000.8,374.3 1001.1,371.5 1001.4,368.7 1001.7,366 1002.1,363.2 1002.4,360.4 1002.7,357.6 1003,354.8 1003.3,352 1003.6,349.2 1003.9,346.5 1004.2,343.7 1004.5,340.9 1004.8,338.1 1005,335.3 1005.3,332.5 1005.6,329.7 1005.9,326.9 1006.2,324.1 1006.4,321.3 1006.7,318.6 1007,315.8 1007.3,313 1007.5,310.2 1007.8,307.4 1008,304.6 1008.3,301.8 1008.5,299 1008.8,296.2 1009.1,293.4 1009.3,290.6 1009.5,287.8 1009.8,285 1010,282.2 1010.3,279.4 1010.5,276.6 1010.7,273.8 1011,271.1 1011.2,268.3 1011.4,265.5 1011.7,262.7 1011.9,259.9 1012.1,257.1 1012.3,254.3 1012.6,251.5 1012.8,248.7 1013,245.9 1013.2,243.1 1013.4,240.3 1013.6,237.5 1013.9,234.7 1014.1,231.9 1014.3,229.1 1014.5,226.3 1014.7,223.5 1014.9,220.7 1015.1,217.9 1015.3,215.1 1015.5,212.3 1015.7,209.5 1015.9,206.7 1016.1,203.9 1016.3,201.1 1016.5,198.3 1016.7,195.5 1016.9,192.7 1017.1,189.9 1017.2,187.1 1017.4,184.3 1017.6,181.5 1017.8,178.7 1018,175.9 1018.2,173.1 1018.4,170.3 1018.6,167.5 1018.7,164.7 1018.9,161.9 1019.1,159.1 1019.3,156.3 1019.5,153.5 1019.7,150.7 1019.8,147.9 1020,145.1 1020.2,142.3 1020.4,139.5 1020.5,136.7 1020.7,133.9 1020.9,131.1 1021.1,128.3 1021.3,125.5 1021.4,122.7 1021.6,119.9 1021.8,117.1 1022,114.3 1022.1,111.5 1022.3,108.7 1022.5,105.9 1022.7,103.1 1022.9,100.4 1023,97.6 1023.2,94.8 1023.4,92 1023.6,89.2 1023.7,86.4 1023.9,83.6 1024.1,80.8 1024.3,78 1024.5,75.2 1024.6,72.4 1024.8,69.6 1025,66.8 1025.2,64 1025.4,61.3 1025.5,58.5 1025.7,55.7 1025.9,52.9 1026.1,50.1" stroke="#00ffff"/>
<polyline points="222.3,792.1 225.2,792.1 228.1,792 231,792 233.9,791.9 236.8,791.9 239.7,791.9 242.6,791.8 245.5,791.8 248.4,791.7 251.3,791.7 254.3,791.7 257.2,791.6 260.1,791.6 263,791.6 265.9,791.5 268.8,791.5 271.7,791.5 274.7,791.4 277.6,791.4 280.5,791.3 283.4,791.3 286.3,791.3 289.3,791.2 292.2,791.2 295.1,791.2 298,791.1 300.9,791.1 303.9,791.1 306.8,791.1 309.7,791 312.7,791 315.6,791 318.5,790.9 321.4,790.9 324.4,790.9 327.3,790.8 330.2,790.8 333.1,790.8 336.1,790.7 339,790.7 341.9,790.7 344.9,790.7 347.8,790.6 350.7,790.6 353.7,790.6 356.6,790.5 359.5,790.5 362.5,790.5 365.4,790.5 368.3,790.4 371.3,790.4 374.2,790.4 377.1,790.3 380.1,790.3 383,790.3 385.9,790.3 388.9,790.2 391.8,790.2 394.8,790.2 397.7,790.2 400.6,790.1 403.6,790.1 406.5,790.1 409.4,790 412.4,790 415.3,790 418.3,790 421.2,789.9 424.1,789.9 427.1,789.9 430,789.9 432.9,789.8 435.9,789.8 438.8,789.8 441.8,789.7 444.7,789.7 447.6,789.7 450.6,789.7 453.5,789.6 456.4,789.6 459.4,789.6 462.3,789.6 465.2,789.5 468.2,789.5 471.1,789.5 474.1,789.4 477,789.4 479.9,789.4 482.9,789.4 485.8,789.3 488.7,789.3 491.7,789.3 494.6,789.2 497.5,789.2 500.5,789.2 503.4,789.2 506.3,789.1 509.3,789.1 512.2,789.1 515.1,789 518.1,789 521,789 523.9,788.9 526.9,788.9 529.8,788.9 532.7,788.8 535.6,788.8 538.6,788.8 541.5,788.8 544.4,788.7 547.3,788.7 550.3,788.7 553.2,788.6 556.1,788.6 559,788.6 562,788.5 564.9,788.5 567.8,788.4 570.7,788.4 573.7,788.4 576.6,788.3 579.5,788.3 582.4,788.3 585.3,788.2 588.2,788.2 591.2,788.2 594.1,788.1 597,788.1 599.9,788 602.8,788 605.7,788 608.6,787.9 611.6,787.9 614.5,787.8 617.4,787.8 620.3,787.8 623.2,787.7 626.1,787.7 629,787.6 631.9,787.6 634.8,787.6 637.7,787.5 640.7,787.5 643.6,787.4 646.5,787.4 649.4,787.3 652.3,787.3 655.2,787.3 658.1,787.2 661,787.2 663.9,787.1 666.8,787.1 669.8,787.1 672.7,787 675.6,787 678.5,786.9 681.4,786.9 684.3,786.9 687.3,786.8 690.2,786.8 693.1,786.8 696,786.7 698.9,786.7 701.9,786.7 704.8,786.6 707.7,786.6 710.6,786.5 713.6,786.5 716.5,786.5 719.4,786.5 722.3,786.4 725.3,786.4 728.2,786.4 731.1,786.3 734.1,786.3 737,786.3 740,786.2 742.9,786.2 745.9,786.2 748.8,786.2 751.8,786.2 754.7,786.1 757.7,786.1 760.6,786.1 763.6,786.1 766.5,786.1 769.5,786 772.5,786 775.4,786 778.4,786 781.4,786 784.3,786 787.3,785.9 790.3,785.9 793.3,785.9 796.2,785.8 799.2,785.8 802.2,785.8 805.2,785.7 808.1,785.6 811.1,785.6 814.1,785.5 817.1,785.4 820.1,785.3 823,785.2 826,785 829,784.9 831.9,784.7 834.9,784.5 837.9,784.3 840.8,784.1 843.8,783.9 846.8,783.6 849.7,783.3 852.7,783 855.6,782.7 858.5,782.3 861.5,782 864.4,781.6 867.4,781.1 870.3,780.7 873.2,780.2 876.1,779.7 879,779.2 881.9,778.6 884.8,778 887.7,777.4 890.5,776.7 893.3,776 896.2,775.3 899,774.5 901.8,773.7 904.6,772.9 907.3,772 910.1,771.1 912.8,770.1 915.5,769.1 918.1,768.1 920.8,767 923.4,765.9 926,764.8 928.6,763.6 931.1,762.3 933.6,761 936.1,759.7 938.5,758.3 940.9,756.9 943.3,755.4 945.7,753.9 948,752.3 950.2,750.7 952.5,749 954.7,747.3 956.9,745.5 959,743.7 961.1,741.8 963.1,739.9 965.2,738 967.2,736 969.1,734 971,731.9 972.9,729.8 974.8,727.7 976.6,725.5 978.4,723.3 980.1,721 981.8,718.7 983.5,716.4 985.2,714.1 986.8,711.7 988.4,709.3 989.9,706.9 991.4,704.4 992.9,701.9 994.3,699.4 995.8,696.8 997.1,694.3 998.5,691.7 999.8,689.1 1001.1,686.5 1002.3,683.8 1003.6,681.2 1004.8,678.5 1005.9,675.8 1007,673 1008.1,670.3 1009.2,667.6 1010.3,664.8 1011.3,662 1012.3,659.2 1013.2,656.4 1014.1,653.6 1015.1,650.8 1015.9,648 1016.8,645.1 1017.7,642.3 1018.5,639.4 1019.3,636.5 1020.1,633.6 1020.8,630.8 1021.6,627.9 1022.3,625 1023,622.1 1023.7,619.2 1024.4,616.2 1025,613.3 1025.7,610.4 1026.3,607.5 1026.9,604.6 1027.6,601.6 1028.2,598.7 1028.8,595.8 1029.3,592.9 1029.9,589.9 1030.5,587 1031.1,584.1 1031.6,581.2 1032.2,578.3 1032.7,575.3 1033.2,572.4 1033.7,569.5 1034.3,566.6 1034.8,563.7 1035.3,560.8 1035.8,557.9 1036.3,555 1036.7,552.1 1037.2,549.2 1037.7,546.3 1038.1,543.4 1038.6,540.5 1039,537.6 1039.5,534.7 1039.9,531.8 1040.3,528.9 1040.8,526 1041.2,523.1 1041.6,520.2 1042,517.3 1042.4,514.4 1042.8,511.5 1043.2,508.6 1043.5,505.7 1043.9,502.8 1044.3,499.9 1044.6,497 1045,494.1 1045.3,491.2 1045.7,488.4 1046,485.5 1046.4,482.6 1046.7,479.7 1047,476.8 1047.3,473.9 1047.6,471 1047.9,468.1 1048.2,465.2 1048.5,462.3 1048.8,459.4 1049.1,456.5 1049.4,453.6 1049.7,450.7 1049.9,447.9 1050.2,445 1050.5,442.1 1050.7,439.2 1051,436.3 1051.2,433.4 1051.5,430.5 1051.7,427.6 1052,424.7 1052.2,421.8 1052.4,418.9 1052.6,416 1052.9,413.1 1053.1,410.2 1053.3,407.2 1053.5,404.3 1053.7,401.4 1053.9,398.5 1054.1,395.6 1054.3,392.7 1054.5,389.8 1054.7,386.9 1054.9,384 1055.1,381 1055.2,378.1 1055.4,375.2 1055.6,372.3 1055.8,369.4 1055.9,366.5 1056.1,363.5 1056.2,360.6 1056.4,357.7 1056.6,354.8 1056.7,351.8 1056.9,348.9 1057,346 1057.1,343.1 1057.3,340.1 1057.4,337.2 1057.6,334.3 1057.7,331.4 1057.8,328.4 1057.9,325.5 1058.1,322.6 1058.2,319.6 1058.3,316.7 1058.4,313.8 1058.5,310.8 1058.6,307.9 1058.8,305 1058.9,302 1059,299.1 1059.1,296.2 1059.2,293.2 1059.3,290.3 1059.4,287.4 1059.5,284.4 1059.6,281.5 1059.6,278.6 1059.7,275.6 1059.8,272.7 1059.9,269.8 1060,266.8 1060.1,263.9 1060.2,260.9 1060.2,258 1060.3,255.1 1060.4,252.1 1060.5,249.2 1060.5,246.3 1060.6,243.3 1060.7,240.4 1060.7,237.4 1060.8,234.5 1060.9,231.6 1060.9,228.6 1061,225.7 1061.1,222.8 1061.1,219.8 1061.2,216.9 1061.3,213.9 1061.3,211 1061.4,208.1 1061.4,205.1 1061.5,202.2 1061.5,199.3 1061.6,196.3 1061.7,193.4 1061.7,190.5 1061.8,187.5 1061.8,184.6 1061.9,181.7 1061.9,178.7 1062,175.8 1062,172.9 1062.1,169.9 1062.1,167 1062.2,164.1 1062.2,161.1 1062.3,158.2 1062.3,155.3 1062.4,152.3 1062.4,149.4 1062.5,146.5 1062.5,143.6 1062.6,140.6 1062.6,137.7 1062.7,134.8 1062.7,131.9 1062.8,128.9 1062.8,126 1062.9,123.1 1062.9,120.2 1063,117.2 1063,114.3 1063.1,111.4 1063.1,108.5 1063.2,105.6 1063.3,102.6 1063.3,99.7 1063.4,96.8 1063.4,93.9 1063.5,91 1063.5,88.1 1063.6,85.2 1063.7,82.2 1063.7,79.3 1063.8,76.4 1063.9,73.5 1063.9,70.6 1064,67.7 1064.1,64.8 1064.1,61.9 1064.2,59 1064.3,56.1 1064.3,53.2 1064.4,50.3" stroke="#ff00ff"/>
<polyline points="222.4,794 225.4,794 228.3,794 231.2,794 234.1,794 237,794.1 240,794.1 242.9,794.1 245.8,794.1 248.7,794.1 251.7,794.1 254.6,794.1 257.5,794.1 260.5,794.1 263.4,794.1 266.3,794.1 269.3,794.1 272.2,794.1 275.1,794.1 278.1,794.1 281,794.1 284,794.1 286.9,794.1 289.9,794.1 292.8,794.1 295.8,794.1 298.7,794.1 301.6,794.1 304.6,794.1 307.5,794.1 310.5,794.1 313.5,794 316.4,794 319.4,794 322.3,794 325.3,794 328.2,794 331.2,793.9 334.1,793.9 337.1,793.9 340.1,793.9 343,793.9 346,793.8 349,793.8 351.9,793.8 354.9,793.8 357.8,793.8 360.8,793.7 363.8,793.7 366.7,793.7 369.7,793.7 372.7,793.6 375.6,793.6 378.6,793.6 381.6,793.5 384.5,793.5 387.5,793.5 390.5,793.5 393.4,793.4 396.4,793.4 399.4,793.4 402.4,793.3 405.3,793.3 408.3,793.3 411.3,793.2 414.2,793.2 417.2,793.2 420.2,793.1 423.2,793.1 426.1,793.1 429.1,793 432.1,793 435,793 438,792.9 441,792.9 444,792.9 446.9,792.8 449.9,792.8 452.9,792.8 455.8,792.7 458.8,792.7 461.8,792.6 464.7,792.6 467.7,792.6 470.7,792.5 473.7,792.5 476.6,792.5 479.6,792.4 482.6,792.4 485.5,792.3 488.5,792.3 491.5,792.3 494.4,792.2 497.4,792.2 500.4,792.2 503.3,792.1 506.3,792.1 509.3,792 512.2,792 515.2,792 518.1,791.9 521.1,791.9 524.1,791.9 527,791.8 530,791.8 532.9,791.8 535.9,791.7 538.9,791.7 541.8,791.7 544.8,791.6 547.7,791.6 550.7,791.6 553.6,791.5 556.6,791.5 559.5,791.5 562.5,791.4 565.4,791.4 568.4,791.4 571.3,791.3 574.3,791.3 577.2,791.3 580.2,791.2 583.1,791.2 586.1,791.2 589,791.2 591.9,791.1 594.9,791.1 597.8,791.1 600.7,791 603.7,791 606.6,791 609.5,791 612.5,790.9 615.4,790.9 618.3,790.9 621.3,790.9 624.2,790.9 627.1,790.8 630.1,790.8 633,790.8 635.9,790.8 638.8,790.8 641.8,790.7 644.7,790.7 647.6,790.7 650.5,790.7 653.5,790.7 656.4,790.7 659.3,790.7 662.3,790.7 665.2,790.6 668.1,790.6 671.1,790.6 674,790.6 676.9,790.6 679.8,790.6 682.8,790.6 685.7,790.6 688.7,790.6 691.6,790.6 694.5,790.6 697.5,790.6 700.4,790.6 703.4,790.6 706.3,790.6 709.2,790.6 712.2,790.6 715.1,790.6 718.1,790.6 721.1,790.6 724,790.6 727,790.6 729.9,790.7 732.9,790.7 735.9,790.7 738.8,790.7 741.8,790.7 744.8,790.7 747.7,790.7 750.7,790.8 753.7,790.8 756.7,790.8 759.7,790.8 762.7,790.9 765.7,790.9 768.7,790.9 771.7,790.9 774.7,791 777.7,791 780.7,791 783.7,791.1 786.7,791.1 789.7,791.1 792.7,791.2 795.8,791.2 798.8,791.2 801.8,791.3 804.9,791.3 807.9,791.3 810.9,791.3 814,791.3 817,791.3 820,791.3 823.1,791.3 826.1,791.3 829.1,791.3 832.1,791.2 835.2,791.2 838.2,791.1 841.2,791.1 844.2,791 847.2,790.9 850.2,790.8 853.2,790.6 856.2,790.5 859.2,790.3 862.2,790.1 865.2,789.9 868.2,789.7 871.2,789.5 874.1,789.2 877.1,789 880,788.7 883,788.3 885.9,788 888.8,787.6 891.7,787.2 894.6,786.8 897.5,786.4 900.4,785.9 903.3,785.4 906.2,784.9 909,784.3 911.9,783.7 914.7,783.1 917.5,782.5 920.3,781.8 923.1,781.1 925.9,780.3 928.7,779.6 931.4,778.8 934.2,777.9 936.9,777 939.6,776.1 942.3,775.1 945,774.1 947.6,773.1 950.3,772 952.9,770.9 955.5,769.7 958.1,768.5 960.7,767.3 963.2,766 965.8,764.7 968.3,763.3 970.8,761.9 973.3,760.5 975.8,759 978.2,757.4 980.6,755.9 983,754.2 985.4,752.6 987.8,750.9 990.1,749.2 992.4,747.4 994.7,745.6 997,743.8 999.2,741.9 1001.4,740 1003.6,738.1 1005.8,736.1 1007.9,734.1 1010,732.1 1012.1,730.1 1014.2,728 1016.2,725.8 1018.2,723.7 1020.2,721.5 1022.1,719.3 1024,717.1 1025.9,714.8 1027.8,712.5 1029.6,710.2 1031.4,707.8 1033.2,705.5 1034.9,703.1 1036.6,700.7 1038.3,698.2 1039.9,695.8 1041.5,693.3 1043.1,690.8 1044.7,688.2 1046.2,685.7 1047.7,683.1 1049.2,680.5 1050.7,677.9 1052.1,675.3 1053.5,672.7 1054.9,670 1056.2,667.4 1057.5,664.7 1058.8,662 1060.1,659.3 1061.4,656.6 1062.6,653.9 1063.8,651.1 1065,648.4 1066.2,645.6 1067.3,642.8 1068.4,640.1 1069.5,637.3 1070.6,634.5 1071.7,631.7 1072.7,628.9 1073.8,626.1 1074.8,623.3 1075.8,620.5 1076.8,617.7 1077.7,614.9 1078.7,612 1079.6,609.2 1080.5,606.4 1081.4,603.6 1082.3,600.7 1083.1,597.9 1084,595.1 1084.8,592.2 1085.6,589.4 1086.4,586.5 1087.2,583.7 1087.9,580.8 1088.7,577.9 1089.4,575.1 1090.2,572.2 1090.9,569.3 1091.6,566.5 1092.3,563.6 1092.9,560.7 1093.6,557.8 1094.2,555 1094.9,552.1 1095.5,549.2 1096.1,546.3 1096.7,543.4 1097.3,540.5 1097.9,537.6 1098.4,534.7 1099,531.8 1099.5,528.9 1100.1,526 1100.6,523.1 1101.1,520.2 1101.6,517.3 1102.1,514.4 1102.6,511.5 1103.1,508.6 1103.5,505.7 1104,502.8 1104.4,499.8 1104.9,496.9 1105.3,494 1105.8,491.1 1106.2,488.2 1106.6,485.2 1107,482.3 1107.4,479.4 1107.8,476.4 1108.2,473.5 1108.6,470.6 1108.9,467.7 1109.3,464.7 1109.7,461.8 1110,458.9 1110.4,455.9 1110.7,453 1111.1,450.1 1111.4,447.1 1111.8,444.2 1112.1,441.3 1112.4,438.3 1112.7,435.4 1113.1,432.4 1113.4,429.5 1113.7,426.6 1114,423.6 1114.3,420.7 1114.6,417.8 1114.9,414.8 1115.2,411.9 1115.5,408.9 1115.8,406 1116.1,403.1 1116.3,400.1 1116.6,397.2 1116.9,394.2 1117.1,391.3 1117.4,388.3 1117.7,385.4 1117.9,382.4 1118.2,379.5 1118.4,376.6 1118.7,373.6 1118.9,370.7 1119.1,367.7 1119.4,364.8 1119.6,361.8 1119.8,358.9 1120.1,355.9 1120.3,353 1120.5,350 1120.7,347.1 1120.9,344.1 1121.1,341.2 1121.3,338.2 1121.5,335.3 1121.7,332.3 1121.9,329.4 1122.1,326.4 1122.3,323.5 1122.5,320.5 1122.6,317.6 1122.8,314.6 1123,311.7 1123.2,308.7 1123.3,305.8 1123.5,302.8 1123.7,299.9 1123.8,296.9 1124,294 1124.1,291 1124.3,288 1124.4,285.1 1124.6,282.1 1124.7,279.2 1124.8,276.2 1125,273.3 1125.1,270.3 1125.2,267.4 1125.4,264.4 1125.5,261.4 1125.6,258.5 1125.7,255.5 1125.8,252.6 1125.9,249.6 1126.1,246.7 1126.2,243.7 1126.3,240.8 1126.4,237.8 1126.5,234.8 1126.6,231.9 1126.7,228.9 1126.7,226 1126.8,223 1126.9,220.1 1127,217.1 1127.1,214.1 1127.2,211.2 1127.2,208.2 1127.3,205.3 1127.4,202.3 1127.5,199.3 1127.5,196.4 1127.6,193.4 1127.7,190.5 1127.7,187.5 1127.8,184.6 1127.8,181.6 1127.9,178.6 1128,175.7 1128,172.7 1128.1,169.8 1128.1,166.8 1128.1,163.9 1128.2,160.9 1128.2,157.9 1128.3,155 1128.3,152 1128.3,149.1 1128.4,146.1 1128.4,143.1 1128.4,140.2 1128.5,137.2 1128.5,134.3 1128.5,131.3 1128.5,128.4 1128.6,125.4 1128.6,122.4 1128.6,119.5 1128.6,116.5 1128.6,113.6 1128.6,110.6 1128.6,107.7 1128.7,104.7 1128.7,101.7 1128.7,98.8 1128.7,95.8 1128.7,92.9 1128.7,89.9 1128.7,87 1128.7,84" stroke="#808000"/>
<polyline points="339,793.3 340.7,793.3 342.4,793.3 344.2,793.3 345.9,793.3 347.6,793.3 349.4,793.2 351.1,793.2 352.8,793.2 354.6,793.2 356.3,793.2 358,793.2 359.8,793.2 361.5,793.2 363.2,793.2 365,793.2 366.7,793.1 368.4,793.1 370.1,793.1 371.9,793.1 373.6,793.1 375.3,793.1 377.1,793.1 378.8,793.1 380.5,793.1 382.3,793.1 384,793.1 385.7,793.1 387.4,793.1 389.2,793.1 390.9,793 392.6,793 394.4,793 396.1,793 397.8,793 399.5,793 401.3,793 403,793 404.7,793 406.4,793 408.2,793 409.9,793 411.6,793 413.4,793 415.1,793 416.8,793 418.5,793 420.3,793 422,793 423.7,792.9 425.4,792.9 427.2,792.9 428.9,792.9 430.6,792.9 432.3,792.9 434.1,792.9 435.8,792.9 437.5,792.9 439.2,792.9 441,792.9 442.7,792.9 444.4,792.9 446.1,792.9 447.9,792.9 449.6,792.9 451.3,792.9 453,792.9 454.8,792.9 456.5,792.9 458.2,792.9 459.9,792.9 461.7,792.9 463.4,792.9 465.1,792.9 466.8,792.9 468.6,792.8 470.3,792.8 472,792.8 473.7,792.8 475.5,792.8 477.2,792.8 478.9,792.8 480.6,792.8 482.3,792.8 484.1,792.8 485.8,792.8 487.5,792.8 489.2,792.8 491,792.8 492.7,792.8 494.4,792.8 496.1,792.8 497.9,792.8 499.6,792.8 501.3,792.8 503,792.8 504.7,792.8 506.5,792.7 508.2,792.7 509.9,792.7 511.6,792.7 513.4,792.7 515.1,792.7 516.8,792.7 518.5,792.7 520.2,792.7 522,792.7 523.7,792.7 525.4,792.7 527.1,792.7 528.9,792.7 530.6,792.7 532.3,792.6 534,792.6 535.7,792.6 537.5,792.6 539.2,792.6 540.9,792.6 542.6,792.6 544.4,792.6 546.1,792.6 547.8,792.6 549.5,792.6 551.2,792.5 553,792.5 554.7,792.5 556.4,792.5 558.1,792.5 559.9,792.5 561.6,792.5 563.3,792.5 565,792.5 566.7,792.4 568.5,792.4 570.2,792.4 571.9,792.4 573.6,792.4 575.3,792.4 577.1,792.4 578.8,792.4 580.5,792.3 582.2,792.3 584,792.3 585.7,792.3 587.4,792.3 589.1,792.3 590.9,792.2 592.6,792.2 594.3,792.2 596,792.2 597.7,792.2 599.5,792.2 601.2,792.1 602.9,792.1 604.6,792.1 606.4,792.1 608.1,792.1 609.8,792 611.5,792 613.2,792 615,792 616.7,792 618.4,791.9 620.1,791.9 621.9,791.9 623.6,791.9 625.3,791.9 627,791.8 628.8,791.8 630.5,791.8 632.2,791.8 633.9,791.7 635.7,791.7 637.4,791.7 639.1,791.7 640.8,791.6 642.6,791.6 644.3,791.6 646,791.5 647.7,791.5 649.4,791.5 651.2,791.5 652.9,791.4 654.6,791.4 656.3,791.4 658.1,791.3 659.8,791.3 661.5,791.3 663.2,791.2 665,791.2 666.7,791.2 668.4,791.1 670.2,791.1 671.9,791.1 673.6,791 675.3,791 677.1,791 678.8,790.9 680.5,790.9 682.2,790.8 684,790.8 685.7,790.8 687.4,790.7 689.1,790.7 690.9,790.6 692.6,790.6 694.3,790.6 696.1,790.5 697.8,790.5 699.5,790.4 701.2,790.4 703,790.3 704.7,790.3 706.4,790.3 708.2,790.2 709.9,790.2 711.6,790.1 713.3,790.1 715.1,790 716.8,790 718.5,789.9 720.3,789.9 722,789.8 723.7,789.8 725.4,789.7 727.2,789.7 728.9,789.6 730.6,789.5 732.4,789.5 734.1,789.4 735.8,789.4 737.6,789.3 739.3,789.3 741,789.2 742.8,789.1 744.5,789.1 746.2,789 748,789 749.7,788.9 751.4,788.8 753.1,788.8 754.9,788.7 756.6,788.7 758.3,788.6 760.1,788.5 761.8,788.5 763.5,788.4 765.3,788.3 767,788.3 768.8,788.2 770.5,788.1 772.2,788 774,788 775.7,787.9 777.4,787.8 779.2,787.8 780.9,787.7 782.6,787.6 784.4,787.5 786.1,787.4 787.8,787.4 789.6,787.3 791.3,787.2 793.1,787.1 794.8,787 796.5,787 798.3,786.9 800,786.8 801.7,786.7 803.5,786.6 805.2,786.5 806.9,786.4 808.7,786.3 810.4,786.2 812.2,786.1 813.9,786.1 815.6,786 817.4,785.9 819.1,785.8 820.8,785.6 822.6,785.5 824.3,785.4 826,785.3 827.8,785.2 829.5,785.1 831.2,785 833,784.9 834.7,784.8 836.4,784.7 838.2,784.5 839.9,784.4 841.6,784.3 843.4,784.2 845.1,784 846.8,783.9 848.6,783.8 850.3,783.6 852,783.5 853.8,783.4 855.5,783.2 857.2,783.1 859,782.9 860.7,782.8 862.4,782.6 864.1,782.5 865.9,782.3 867.6,782.2 869.3,782 871,781.9 872.8,781.7 874.5,781.5 876.2,781.4 877.9,781.2 879.7,781 881.4,780.9 883.1,780.7 884.8,780.5 886.6,780.3 888.3,780.1 890,780 891.7,779.8 893.4,779.6 895.2,779.4 896.9,779.2 898.6,779 900.3,778.8 902,778.6 903.7,778.4 905.4,778.1 907.2,777.9 908.9,777.7 910.6,777.5 912.3,777.3 914,777 915.7,776.8 917.4,776.6 919.1,776.3 920.8,776.1 922.5,775.9 924.3,775.6 926,775.4 927.7,775.1 929.4,774.8 931.1,774.6 932.8,774.3 934.5,774.1 936.2,773.8 937.9,773.5 939.6,773.2 941.3,773 943,772.7 944.6,772.4 946.3,772.1 948,771.8 949.7,771.5 951.4,771.2 953.1,770.9 954.8,770.6 956.5,770.3 958.2,770 959.8,769.6 961.5,769.3 963.2,769 964.9,768.6 966.6,768.3 968.3,768 969.9,767.6 971.6,767.3 973.3,766.9 975,766.6 976.6,766.2 978.3,765.8 980,765.5 981.6,765.1 983.3,764.7 985,764.3 986.6,764 988.3,763.6 990,763.2 991.6,762.8 993.3,762.4 995,762 996.6,761.5 998.3,761.1 999.9,760.7 1001.6,760.3 1003.2,759.9 1004.9,759.4 1006.5,759 1008.2,758.5 1009.8,758.1 1011.5,757.6 1013.1,757.2 1014.7,756.7 1016.4,756.2 1018,755.8 1019.7,755.3 1021.3,754.8 1022.9,754.3 1024.6,753.8 1026.2,753.3 1027.8,752.8 1029.5,752.3 1031.1,751.8 1032.7,751.3 1034.3,750.8 1035.9,750.2 1037.6,749.7 1039.2,749.2 1040.8,748.6 1042.4,748.1 1044,747.5 1045.6,747 1047.2,746.4 1048.9,745.8 1050.5,745.3 1052.1,744.7 1053.7,744.1 1055.3,743.5 1056.9,742.9 1058.5,742.3 1060.1,741.7 1061.7,741.1 1063.2,740.5 1064.8,739.8 1066.4,739.2 1068,738.6 1069.6,737.9 1071.2,737.3 1072.8,736.6 1074.3,736 1075.9,735.3 1077.5,734.6 1079.1,733.9 1080.6,733.3 1082.2,732.6 1083.8,731.9 1085.3,731.2 1086.9,730.5 1088.4,729.8 1090,729 1091.6,728.3 1093.1,727.6 1094.7,726.8 1096.2,726.1 1097.8,725.4 1099.3,724.6 1100.9,723.8 1102.4,723.1 1103.9,722.3 1105.5,721.5 1107,720.7 1108.5,719.9 1110.1,719.1 1111.6,718.3 1113.1,717.5 1114.6,716.7 1116.2,715.9 1117.7,715 1119.2,714.2 1120.7,713.3 1122.2,712.5 1123.7,711.6 1125.2,710.8 1126.8,709.9 1128.3,709 1129.8,708.1 1131.3,707.2 1132.7,706.3 1134.2,705.4 1135.7,704.5 1137.2,703.6 1138.7,702.6 1140.2,701.7 1141.7,700.8 1143.2,699.8 1144.6,698.9 1146.1,697.9 1147.6,696.9 1149,695.9 1150.5,694.9 1152,694 1153.4,693 1154.9,691.9 1156.3,690.9 1157.8,689.9 1159.3,688.9 1160.7,687.8 1162.1,686.8 1163.6,685.7 1165,684.7 1166.5,683.6 1167.9,682.5 1169.3,681.5 1170.8,680.4 1172.2,679.3 1173.6,678.2 1175,677 1176.5,675.9 1177.9,674.8" stroke="#c0c0c0"/>
</g>
<line x1="222.7" y1="825" x2="222.7" y2="840.2" stroke="#000" stroke-width="7.5" stroke-linecap="round"/>
<text x="222.7" y="888.5" text-anchor="middle" font-size="52" font-weight="normal" fill="#000">1.2</text>
<line x1="459.7" y1="825" x2="459.7" y2="840.2" stroke="#000" stroke-width="7.5" stroke-linecap="round"/>
<text x="459.7" y="888.5" text-anchor="middle" font-size="52" font-weight="normal" fill="#000">1.3</text>
<line x1="696.7" y1="825" x2="696.7" y2="840.2" stroke="#000" stroke-width="7.5" stroke-linecap="round"/>
<text x="696.7" y="888.5" text-anchor="middle" font-size="52" font-weight="normal" fill="#000">1.4</text>
<line x1="933.7" y1="825" x2="933.7" y2="840.2" stroke="#000" stroke-width="7.5" stroke-linecap="round"/>
<text x="933.7" y="888.5" text-anchor="middle" font-size="52" font-weight="normal" fill="#000">1.5</text>
<line x1="1170.7" y1="825" x2="1170.7" y2="840.2" stroke="#000" stroke-width="7.5" stroke-linecap="round"/>
<text x="1170.7" y="888.5" text-anchor="middle" font-size="52" font-weight="normal" fill="#000">1.6</text>
<line x1="341.2" y1="825" x2="341.2" y2="833.5" stroke="#000" stroke-width="7" stroke-linecap="round"/>
<line x1="578.2" y1="825" x2="578.2" y2="833.5" stroke="#000" stroke-width="7" stroke-linecap="round"/>
<line x1="815.2" y1="825" x2="815.2" y2="833.5" stroke="#000" stroke-width="7" stroke-linecap="round"/>
<line x1="1052.2" y1="825" x2="1052.2" y2="833.5" stroke="#000" stroke-width="7" stroke-linecap="round"/>
<line x1="200.5" y1="795" x2="216.3" y2="795" stroke="#000" stroke-width="8" stroke-linecap="round"/>
<text x="191" y="809" text-anchor="end" font-size="53" font-weight="normal" fill="#000">0</text>
<line x1="200.5" y1="425" x2="216.3" y2="425" stroke="#000" stroke-width="8" stroke-linecap="round"/>
<text x="191" y="439.5" text-anchor="end" font-size="53" font-weight="normal" fill="#000">50</text>
<line x1="207.5" y1="610" x2="216.3" y2="610" stroke="#000" stroke-width="7" stroke-linecap="round"/>
<line x1="207.5" y1="240" x2="216.3" y2="240" stroke="#000" stroke-width="7" stroke-linecap="round"/>
<line x1="287" y1="119" x2="400" y2="119" stroke="#000000" stroke-width="9" stroke-linecap="round"/>
<text x="414" y="134" font-size="50" transform="translate(414 0) scale(1.033 1) translate(-414 0)" xml:space="preserve">CoO<tspan font-size="33" dy="18">x</tspan><tspan dy="-18">  ANSs (1)</tspan></text>
<line x1="287" y1="196.1" x2="400" y2="196.1" stroke="#ff0000" stroke-width="9" stroke-linecap="round"/>
<text x="414" y="211.4" font-size="50" transform="translate(414 0) scale(1.033 1) translate(-414 0)" xml:space="preserve">VCoO<tspan font-size="33" dy="18">x</tspan><tspan dy="-18"> ANSs (2)</tspan></text>
<line x1="287" y1="273.2" x2="400" y2="273.2" stroke="#00ff00" stroke-width="9" stroke-linecap="round"/>
<text x="414" y="288.8" font-size="50" transform="translate(414 0) scale(1.033 1) translate(-414 0)" xml:space="preserve">MnCoO<tspan font-size="33" dy="18">x</tspan><tspan dy="-18"> ANSs (3)</tspan></text>
<line x1="287" y1="350.3" x2="400" y2="350.3" stroke="#0000ff" stroke-width="9" stroke-linecap="round"/>
<text x="414" y="366.2" font-size="50" transform="translate(414 0) scale(1.033 1) translate(-414 0)" xml:space="preserve">FeCoO<tspan font-size="33" dy="18">x</tspan><tspan dy="-18"> ANSs (4)</tspan></text>
<line x1="287" y1="427.4" x2="400" y2="427.4" stroke="#00ffff" stroke-width="9" stroke-linecap="round"/>
<text x="414" y="443.6" font-size="50" transform="translate(414 0) scale(1.033 1) translate(-414 0)" xml:space="preserve">NiCoO<tspan font-size="33" dy="18">x</tspan><tspan dy="-18"> ANSs (5)</tspan></text>
<line x1="287" y1="504.5" x2="400" y2="504.5" stroke="#ff00ff" stroke-width="9" stroke-linecap="round"/>
<text x="414" y="521" font-size="50" transform="translate(414 0) scale(1.033 1) translate(-414 0)" xml:space="preserve">CuCoO<tspan font-size="33" dy="18">x</tspan><tspan dy="-18"> ANSs (6)</tspan></text>
<line x1="287" y1="581.6" x2="400" y2="581.6" stroke="#808000" stroke-width="9" stroke-linecap="round"/>
<text x="414" y="598.4" font-size="50" transform="translate(414 0) scale(1.033 1) translate(-414 0)" xml:space="preserve">ZnCoO<tspan font-size="33" dy="18">x</tspan><tspan dy="-18"> ANSs (7)</tspan></text>
<line x1="287" y1="658.7" x2="400" y2="658.7" stroke="#c0c0c0" stroke-width="9" stroke-linecap="round"/>
<text x="414" y="675.8" font-size="50" transform="translate(414 0) scale(1.022 1) translate(-414 0)" xml:space="preserve">Commericial IrO<tspan font-size="33" dy="18">2</tspan><tspan dy="-18"> (8)</tspan></text>
<text x="696" y="970" text-anchor="middle" font-size="51" font-weight="normal" fill="#000">Potential (V <tspan font-style="italic">vs.</tspan> RHE)</text>
<text transform="translate(113.6 440.5) rotate(-90)" text-anchor="middle" font-size="51" fill="#000">Current density (mA/cm<tspan font-size="31" dy="-24">2</tspan><tspan dy="24">)</tspan></text>
<text x="98.5" y="74.2" text-anchor="start" font-size="62" font-weight="bold" fill="#000">(a)</text>
<rect x="1440.3" y="422" width="59" height="411.7" fill="#000000" stroke="#ff0000" stroke-width="2"/>
<rect x="1560.3" y="428" width="59" height="405.7" fill="#ff0000" stroke="#ff0000" stroke-width="2"/>
<rect x="1680.4" y="402" width="59" height="431.7" fill="#00ff00" stroke="#ff0000" stroke-width="2"/>
<rect x="1800.4" y="511.7" width="59" height="322" fill="#0000ff" stroke="#ff0000" stroke-width="2"/>
<rect x="1920.4" y="505.4" width="59" height="328.3" fill="#00ffff" stroke="#ff0000" stroke-width="2"/>
<rect x="2040.4" y="505.2" width="59" height="328.5" fill="#ff00ff" stroke="#ff0000" stroke-width="2"/>
<rect x="2160.5" y="445.9" width="59" height="387.8" fill="#808000" stroke="#ff0000" stroke-width="2"/>
<rect x="2280.5" y="124.3" width="59" height="709.4" fill="#c0c0c0" stroke="#ff0000" stroke-width="2"/>
<rect x="1410.7" y="60" width="960.8" height="773.7" fill="none" stroke="#000" stroke-width="9" stroke-linejoin="miter"/>
<line x1="1469.8" y1="833.7" x2="1469.8" y2="846.8" stroke="#000" stroke-width="7.5" stroke-linecap="round"/>
<text x="1469.8" y="897" text-anchor="middle" font-size="52" font-weight="normal" fill="#000">1</text>
<line x1="1589.8" y1="833.7" x2="1589.8" y2="846.8" stroke="#000" stroke-width="7.5" stroke-linecap="round"/>
<text x="1589.8" y="897" text-anchor="middle" font-size="52" font-weight="normal" fill="#000">2</text>
<line x1="1709.9" y1="833.7" x2="1709.9" y2="846.8" stroke="#000" stroke-width="7.5" stroke-linecap="round"/>
<text x="1709.9" y="897" text-anchor="middle" font-size="52" font-weight="normal" fill="#000">3</text>
<line x1="1829.9" y1="833.7" x2="1829.9" y2="846.8" stroke="#000" stroke-width="7.5" stroke-linecap="round"/>
<text x="1829.9" y="897" text-anchor="middle" font-size="52" font-weight="normal" fill="#000">4</text>
<line x1="1949.9" y1="833.7" x2="1949.9" y2="846.8" stroke="#000" stroke-width="7.5" stroke-linecap="round"/>
<text x="1949.9" y="897" text-anchor="middle" font-size="52" font-weight="normal" fill="#000">5</text>
<line x1="2069.9" y1="833.7" x2="2069.9" y2="846.8" stroke="#000" stroke-width="7.5" stroke-linecap="round"/>
<text x="2069.9" y="897" text-anchor="middle" font-size="52" font-weight="normal" fill="#000">6</text>
<line x1="2190" y1="833.7" x2="2190" y2="846.8" stroke="#000" stroke-width="7.5" stroke-linecap="round"/>
<text x="2190" y="897" text-anchor="middle" font-size="52" font-weight="normal" fill="#000">7</text>
<line x1="2310" y1="833.7" x2="2310" y2="846.8" stroke="#000" stroke-width="7.5" stroke-linecap="round"/>
<text x="2310" y="897" text-anchor="middle" font-size="52" font-weight="normal" fill="#000">8</text>
<line x1="1409.8" y1="833.7" x2="1409.8" y2="841.5" stroke="#000" stroke-width="7" stroke-linecap="round"/>
<line x1="1529.8" y1="833.7" x2="1529.8" y2="841.5" stroke="#000" stroke-width="7" stroke-linecap="round"/>
<line x1="1649.8" y1="833.7" x2="1649.8" y2="841.5" stroke="#000" stroke-width="7" stroke-linecap="round"/>
<line x1="1769.9" y1="833.7" x2="1769.9" y2="841.5" stroke="#000" stroke-width="7" stroke-linecap="round"/>
<line x1="1889.9" y1="833.7" x2="1889.9" y2="841.5" stroke="#000" stroke-width="7" stroke-linecap="round"/>
<line x1="2009.9" y1="833.7" x2="2009.9" y2="841.5" stroke="#000" stroke-width="7" stroke-linecap="round"/>
<line x1="2130" y1="833.7" x2="2130" y2="841.5" stroke="#000" stroke-width="7" stroke-linecap="round"/>
<line x1="2250" y1="833.7" x2="2250" y2="841.5" stroke="#000" stroke-width="7" stroke-linecap="round"/>
<line x1="2370" y1="833.7" x2="2370" y2="841.5" stroke="#000" stroke-width="7" stroke-linecap="round"/>
<line x1="1396" y1="834" x2="1410.7" y2="834" stroke="#000" stroke-width="8" stroke-linecap="round"/>
<text x="1384.8" y="846.5" text-anchor="end" font-size="53" font-weight="normal" fill="#000">0</text>
<line x1="1396" y1="447" x2="1410.7" y2="447" stroke="#000" stroke-width="8" stroke-linecap="round"/>
<text x="1384.8" y="462" text-anchor="end" font-size="53" font-weight="normal" fill="#000">60</text>
<line x1="1396" y1="60" x2="1410.7" y2="60" stroke="#000" stroke-width="8" stroke-linecap="round"/>
<text x="1384.8" y="74" text-anchor="end" font-size="53" font-weight="normal" fill="#000">120</text>
<line x1="1403.5" y1="640.5" x2="1410.7" y2="640.5" stroke="#000" stroke-width="7" stroke-linecap="round"/>
<line x1="1403.5" y1="253.5" x2="1410.7" y2="253.5" stroke="#000" stroke-width="7" stroke-linecap="round"/>
<text x="1889.6" y="979" text-anchor="middle" font-size="51" font-weight="normal" fill="#000">Samples</text>
<text transform="translate(1278.4 430) rotate(-90)" text-anchor="middle" font-size="51" fill="#000" textLength="446" lengthAdjust="spacingAndGlyphs">Tafel slope (mV/dec)</text>
<text x="1209.5" y="85.2" text-anchor="start" font-size="62" font-weight="bold" fill="#000">(b)</text>
<rect x="238.9" y="1229.3" width="60" height="550.7" fill="#000000" stroke="#ff0000" stroke-width="2"/>
<rect x="358.8" y="1264" width="60" height="516" fill="#ff0000" stroke="#ff0000" stroke-width="2"/>
<rect x="478.7" y="1336.8" width="60" height="443.2" fill="#00ff00" stroke="#ff0000" stroke-width="2"/>
<rect x="598.6" y="1572.4" width="60" height="207.6" fill="#0000ff" stroke="#ff0000" stroke-width="2"/>
<rect x="718.5" y="1455.6" width="60" height="324.4" fill="#00ffff" stroke="#ff0000" stroke-width="2"/>
<rect x="838.4" y="1315" width="60" height="465" fill="#ff00ff" stroke="#ff0000" stroke-width="2"/>
<rect x="958.3" y="1222.9" width="60" height="557.1" fill="#808000" stroke="#ff0000" stroke-width="2"/>
<rect x="1078.2" y="1161" width="60" height="619" fill="#c0c0c0" stroke="#ff0000" stroke-width="2"/>
<rect x="209.6" y="1006" width="961.4" height="774" fill="none" stroke="#000" stroke-width="9" stroke-linejoin="miter"/>
<line x1="268.9" y1="1780" x2="268.9" y2="1793.2" stroke="#000" stroke-width="7.5" stroke-linecap="round"/>
<text x="268.9" y="1844" text-anchor="middle" font-size="52" font-weight="normal" fill="#000">1</text>
<line x1="388.8" y1="1780" x2="388.8" y2="1793.2" stroke="#000" stroke-width="7.5" stroke-linecap="round"/>
<text x="388.8" y="1844" text-anchor="middle" font-size="52" font-weight="normal" fill="#000">2</text>
<line x1="508.7" y1="1780" x2="508.7" y2="1793.2" stroke="#000" stroke-width="7.5" stroke-linecap="round"/>
<text x="508.7" y="1844" text-anchor="middle" font-size="52" font-weight="normal" fill="#000">3</text>
<line x1="628.6" y1="1780" x2="628.6" y2="1793.2" stroke="#000" stroke-width="7.5" stroke-linecap="round"/>
<text x="628.6" y="1844" text-anchor="middle" font-size="52" font-weight="normal" fill="#000">4</text>
<line x1="748.5" y1="1780" x2="748.5" y2="1793.2" stroke="#000" stroke-width="7.5" stroke-linecap="round"/>
<text x="748.5" y="1844" text-anchor="middle" font-size="52" font-weight="normal" fill="#000">5</text>
<line x1="868.4" y1="1780" x2="868.4" y2="1793.2" stroke="#000" stroke-width="7.5" stroke-linecap="round"/>
<text x="868.4" y="1844" text-anchor="middle" font-size="52" font-weight="normal" fill="#000">6</text>
<line x1="988.3" y1="1780" x2="988.3" y2="1793.2" stroke="#000" stroke-width="7.5" stroke-linecap="round"/>
<text x="988.3" y="1844" text-anchor="middle" font-size="52" font-weight="normal" fill="#000">7</text>
<line x1="1108.2" y1="1780" x2="1108.2" y2="1793.2" stroke="#000" stroke-width="7.5" stroke-linecap="round"/>
<text x="1108.2" y="1844" text-anchor="middle" font-size="52" font-weight="normal" fill="#000">8</text>
<line x1="208.9" y1="1780" x2="208.9" y2="1786.5" stroke="#000" stroke-width="7" stroke-linecap="round"/>
<line x1="328.8" y1="1780" x2="328.8" y2="1786.5" stroke="#000" stroke-width="7" stroke-linecap="round"/>
<line x1="448.8" y1="1780" x2="448.8" y2="1786.5" stroke="#000" stroke-width="7" stroke-linecap="round"/>
<line x1="568.6" y1="1780" x2="568.6" y2="1786.5" stroke="#000" stroke-width="7" stroke-linecap="round"/>
<line x1="688.5" y1="1780" x2="688.5" y2="1786.5" stroke="#000" stroke-width="7" stroke-linecap="round"/>
<line x1="808.5" y1="1780" x2="808.5" y2="1786.5" stroke="#000" stroke-width="7" stroke-linecap="round"/>
<line x1="928.4" y1="1780" x2="928.4" y2="1786.5" stroke="#000" stroke-width="7" stroke-linecap="round"/>
<line x1="1048.2" y1="1780" x2="1048.2" y2="1786.5" stroke="#000" stroke-width="7" stroke-linecap="round"/>
<line x1="1168.2" y1="1780" x2="1168.2" y2="1786.5" stroke="#000" stroke-width="7" stroke-linecap="round"/>
<line x1="194.3" y1="1780" x2="209.6" y2="1780" stroke="#000" stroke-width="8" stroke-linecap="round"/>
<text x="184" y="1793" text-anchor="end" font-size="53" font-weight="normal" fill="#000">200</text>
<line x1="194.3" y1="1262.5" x2="209.6" y2="1262.5" stroke="#000" stroke-width="8" stroke-linecap="round"/>
<text x="184" y="1279.5" text-anchor="end" font-size="53" font-weight="normal" fill="#000">300</text>
<line x1="202.5" y1="1521.2" x2="209.6" y2="1521.2" stroke="#000" stroke-width="7" stroke-linecap="round"/>
<line x1="202.5" y1="1003.8" x2="209.6" y2="1003.8" stroke="#000" stroke-width="7" stroke-linecap="round"/>
<text x="689" y="1925" text-anchor="middle" font-size="51" font-weight="normal" fill="#000">Samples</text>
<text transform="translate(78 1392) rotate(-90)" text-anchor="middle" font-size="51" fill="#000" textLength="432" lengthAdjust="spacingAndGlyphs">Overpotential (mV)</text>
<text x="56.6" y="1021.8" text-anchor="start" font-size="62" font-weight="bold" fill="#000">(c)</text>
<rect x="1434" y="1735.3" width="60" height="49.7" fill="#000000" stroke="#ff0000" stroke-width="2"/>
<rect x="1553.9" y="1715" width="60" height="70" fill="#ff0000" stroke="#ff0000" stroke-width="2"/>
<rect x="1673.8" y="1689.6" width="60" height="95.4" fill="#00ff00" stroke="#ff0000" stroke-width="2"/>
<rect x="1793.7" y="1099" width="60" height="686" fill="#0000ff" stroke="#ff0000" stroke-width="2"/>
<rect x="1913.6" y="1546.3" width="60" height="238.7" fill="#00ffff" stroke="#ff0000" stroke-width="2"/>
<rect x="2033.5" y="1713.7" width="60" height="71.3" fill="#ff00ff" stroke="#ff0000" stroke-width="2"/>
<rect x="2153.4" y="1746.9" width="60" height="38.1" fill="#808000" stroke="#ff0000" stroke-width="2"/>
<rect x="2273.3" y="1749" width="60" height="36" fill="#c0c0c0" stroke="#ff0000" stroke-width="2"/>
<line x1="1463.5" y1="1729" x2="1463.5" y2="1143" stroke="#000000" stroke-width="8" stroke-linecap="round"/>
<path d="M1460.5,1100 L1466.5,1100 L1476,1141 L1451,1141 Z" fill="#000000" stroke="#000000" stroke-width="4" stroke-linejoin="round"/>
<line x1="1584.2" y1="1714" x2="1584.2" y2="1140" stroke="#ff0000" stroke-width="8" stroke-linecap="round"/>
<path d="M1581.2,1100 L1587.2,1100 L1596.7,1138 L1571.7,1138 Z" fill="#ff0000" stroke="#ff0000" stroke-width="4" stroke-linejoin="round"/>
<line x1="1707.3" y1="1672" x2="1707.3" y2="1137" stroke="#00ff00" stroke-width="9" stroke-linecap="round"/>
<path d="M1704.3,1100 L1710.3,1100 L1719.8,1135 L1694.8,1135 Z" fill="#00ff00" stroke="#00ff00" stroke-width="4" stroke-linejoin="round"/>
<line x1="1940.6" y1="1545" x2="1940.6" y2="1146" stroke="#00ffff" stroke-width="9" stroke-linecap="round"/>
<path d="M1937.6,1100 L1943.6,1100 L1953.1,1144 L1928.1,1144 Z" fill="#00ffff" stroke="#00ffff" stroke-width="4" stroke-linejoin="round"/>
<line x1="2070.2" y1="1711" x2="2070.2" y2="1142" stroke="#ff00ff" stroke-width="8.5" stroke-linecap="round"/>
<path d="M2067.2,1100 L2073.2,1100 L2082.7,1140 L2057.7,1140 Z" fill="#ff00ff" stroke="#ff00ff" stroke-width="4" stroke-linejoin="round"/>
<line x1="2184.6" y1="1746" x2="2184.6" y2="1142" stroke="#808000" stroke-width="8" stroke-linecap="round"/>
<path d="M2181.6,1100 L2187.6,1100 L2197.1,1140 L2172.1,1140 Z" fill="#808000" stroke="#808000" stroke-width="4" stroke-linejoin="round"/>
<line x1="2301.3" y1="1749" x2="2301.3" y2="1143" stroke="#c0c0c0" stroke-width="7.5" stroke-linecap="round"/>
<path d="M2298.3,1100 L2304.3,1100 L2313.8,1141 L2288.8,1141 Z" fill="#c0c0c0" stroke="#c0c0c0" stroke-width="4" stroke-linejoin="round"/>
<rect x="1404" y="1012.7" width="961" height="772.3" fill="none" stroke="#000" stroke-width="9" stroke-linejoin="miter"/>
<line x1="1404" y1="1098" x2="2365" y2="1098" stroke="#000" stroke-width="8.5" stroke-linecap="butt"/>
<line x1="1464" y1="1785" x2="1464" y2="1798.2" stroke="#000" stroke-width="7.5" stroke-linecap="round"/>
<text x="1464" y="1847.5" text-anchor="middle" font-size="48.5" font-weight="normal" fill="#000">1</text>
<line x1="1583.9" y1="1785" x2="1583.9" y2="1798.2" stroke="#000" stroke-width="7.5" stroke-linecap="round"/>
<text x="1583.9" y="1847.5" text-anchor="middle" font-size="48.5" font-weight="normal" fill="#000">2</text>
<line x1="1703.8" y1="1785" x2="1703.8" y2="1798.2" stroke="#000" stroke-width="7.5" stroke-linecap="round"/>
<text x="1703.8" y="1847.5" text-anchor="middle" font-size="48.5" font-weight="normal" fill="#000">3</text>
<line x1="1823.7" y1="1785" x2="1823.7" y2="1798.2" stroke="#000" stroke-width="7.5" stroke-linecap="round"/>
<text x="1823.7" y="1847.5" text-anchor="middle" font-size="48.5" font-weight="normal" fill="#000">4</text>
<line x1="1943.6" y1="1785" x2="1943.6" y2="1798.2" stroke="#000" stroke-width="7.5" stroke-linecap="round"/>
<text x="1943.6" y="1847.5" text-anchor="middle" font-size="48.5" font-weight="normal" fill="#000">5</text>
<line x1="2063.5" y1="1785" x2="2063.5" y2="1798.2" stroke="#000" stroke-width="7.5" stroke-linecap="round"/>
<text x="2063.5" y="1847.5" text-anchor="middle" font-size="48.5" font-weight="normal" fill="#000">6</text>
<line x1="2183.4" y1="1785" x2="2183.4" y2="1798.2" stroke="#000" stroke-width="7.5" stroke-linecap="round"/>
<text x="2183.4" y="1847.5" text-anchor="middle" font-size="48.5" font-weight="normal" fill="#000">7</text>
<line x1="2303.3" y1="1785" x2="2303.3" y2="1798.2" stroke="#000" stroke-width="7.5" stroke-linecap="round"/>
<text x="2303.3" y="1847.5" text-anchor="middle" font-size="48.5" font-weight="normal" fill="#000">8</text>
<line x1="1404" y1="1785" x2="1404" y2="1790.5" stroke="#000" stroke-width="7" stroke-linecap="round"/>
<line x1="1524" y1="1785" x2="1524" y2="1790.5" stroke="#000" stroke-width="7" stroke-linecap="round"/>
<line x1="1643.8" y1="1785" x2="1643.8" y2="1790.5" stroke="#000" stroke-width="7" stroke-linecap="round"/>
<line x1="1763.8" y1="1785" x2="1763.8" y2="1790.5" stroke="#000" stroke-width="7" stroke-linecap="round"/>
<line x1="1883.7" y1="1785" x2="1883.7" y2="1790.5" stroke="#000" stroke-width="7" stroke-linecap="round"/>
<line x1="2003.6" y1="1785" x2="2003.6" y2="1790.5" stroke="#000" stroke-width="7" stroke-linecap="round"/>
<line x1="2123.4" y1="1785" x2="2123.4" y2="1790.5" stroke="#000" stroke-width="7" stroke-linecap="round"/>
<line x1="2243.3" y1="1785" x2="2243.3" y2="1790.5" stroke="#000" stroke-width="7" stroke-linecap="round"/>
<line x1="2363.2" y1="1785" x2="2363.2" y2="1790.5" stroke="#000" stroke-width="7" stroke-linecap="round"/>
<line x1="1391" y1="1785" x2="1404" y2="1785" stroke="#000" stroke-width="8" stroke-linecap="round"/>
<text x="1378" y="1797.5" text-anchor="end" font-size="53" font-weight="normal" fill="#000">0</text>
<line x1="1391" y1="1398.8" x2="1404" y2="1398.8" stroke="#000" stroke-width="8" stroke-linecap="round"/>
<text x="1378" y="1412.8" text-anchor="end" font-size="53" font-weight="normal" fill="#000">200</text>
<line x1="1391" y1="1012.6" x2="1404" y2="1012.6" stroke="#000" stroke-width="8" stroke-linecap="round"/>
<text x="1378" y="1027" text-anchor="end" font-size="53" font-weight="normal" fill="#000">400</text>
<line x1="1400.5" y1="1591.9" x2="1404" y2="1591.9" stroke="#000" stroke-width="7" stroke-linecap="round"/>
<line x1="1400.5" y1="1205.7" x2="1404" y2="1205.7" stroke="#000" stroke-width="7" stroke-linecap="round"/>
<text x="1883" y="1929.3" text-anchor="middle" font-size="51" font-weight="normal" fill="#000">Samples</text>
<text transform="translate(1271.7 1396.5) rotate(-90)" text-anchor="middle" font-size="51" fill="#000" textLength="419" lengthAdjust="spacingAndGlyphs">Mass activity (A/g)</text>
<text x="1209.5" y="1022.5" text-anchor="start" font-size="62" font-weight="bold" fill="#000">(d)</text>
<text x="1657" y="1068" text-anchor="start" font-size="53" font-weight="normal" fill="#000">1.5 V</text>
<text x="1800" y="1068" text-anchor="start" font-size="53" font-weight="normal" fill="#000" font-style="italic">vs.</text>
<text x="1875.5" y="1068" text-anchor="start" font-size="53" font-weight="bold" fill="#000" textLength="106" lengthAdjust="spacingAndGlyphs">RHE</text>
<text transform="translate(1522.8 1440.1) rotate(-90)" text-anchor="start" font-size="52" fill="#000000" textLength="84" lengthAdjust="spacingAndGlyphs">14×</text>
<text transform="translate(1639.7 1440.1) rotate(-90)" text-anchor="start" font-size="52" fill="#ff0000" textLength="84" lengthAdjust="spacingAndGlyphs">10×</text>
<text transform="translate(1765 1438.5) rotate(-90)" text-anchor="start" font-size="52" fill="#00ff00" textLength="56" lengthAdjust="spacingAndGlyphs">7×</text>
<text transform="translate(1996 1428.9) rotate(-90)" text-anchor="start" font-size="52" fill="#00ffff" textLength="57.4" lengthAdjust="spacingAndGlyphs">3×</text>
<text transform="translate(2128 1429.4) rotate(-90)" text-anchor="start" font-size="52" fill="#ff00ff" textLength="84.4" lengthAdjust="spacingAndGlyphs">10×</text>
<text transform="translate(2247.3 1426.8) rotate(-90)" text-anchor="start" font-size="52" fill="#808000" textLength="84.3" lengthAdjust="spacingAndGlyphs">12×</text>
<text transform="translate(2350 1429.4) rotate(-90)" text-anchor="start" font-size="52" fill="#c0c0c0" textLength="84.4" lengthAdjust="spacingAndGlyphs">19×</text>
</svg>
</body></html>
